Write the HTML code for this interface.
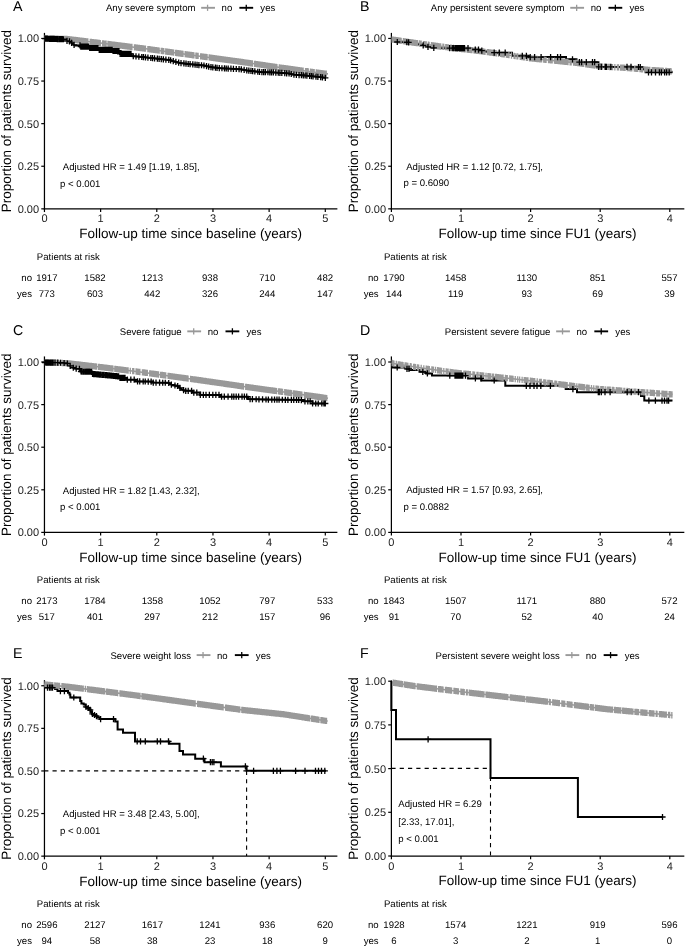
<!DOCTYPE html>
<html><head><meta charset="utf-8"><style>html,body{margin:0;padding:0;background:#fff;}svg{display:block;will-change:transform;} text{text-rendering:geometricPrecision;}</style></head><body>
<svg width="685" height="947" viewBox="0 0 685 947" font-family='"Liberation Sans", sans-serif'>
<rect width="685" height="947" fill="#fff"/>
<text x="12.95" y="10.95" font-size="14.2" text-anchor="start" fill="#000">A</text>
<text x="105.93" y="11.20" font-size="9.6" text-anchor="start" fill="#000">Any severe symptom</text>
<line x1="201.17" y1="7.80" x2="214.97" y2="7.80" stroke="#999999" stroke-width="1.9"/>
<line x1="207.57" y1="4.70" x2="207.57" y2="10.90" stroke="#999999" stroke-width="1.3"/>
<text x="221.57" y="11.20" font-size="9.6" text-anchor="start" fill="#000">no</text>
<line x1="239.37" y1="7.80" x2="253.17" y2="7.80" stroke="#000" stroke-width="1.9"/>
<line x1="246.27" y1="4.70" x2="246.27" y2="10.90" stroke="#000" stroke-width="1.3"/>
<text x="260.37" y="11.20" font-size="9.6" text-anchor="start" fill="#000">yes</text>
<line x1="44.45" y1="33.50" x2="44.45" y2="208.85" stroke="#000" stroke-width="1.25" stroke-linecap="square"/>
<line x1="44.45" y1="208.85" x2="336.75" y2="208.85" stroke="#000" stroke-width="1.25" stroke-linecap="square"/>
<line x1="41.25" y1="208.85" x2="44.45" y2="208.85" stroke="#000" stroke-width="1.2"/>
<text x="39.10" y="212.75" font-size="11" text-anchor="end" fill="#222">0.00</text>
<line x1="41.25" y1="166.25" x2="44.45" y2="166.25" stroke="#000" stroke-width="1.2"/>
<text x="39.10" y="170.15" font-size="11" text-anchor="end" fill="#222">0.25</text>
<line x1="41.25" y1="123.65" x2="44.45" y2="123.65" stroke="#000" stroke-width="1.2"/>
<text x="39.10" y="127.55" font-size="11" text-anchor="end" fill="#222">0.50</text>
<line x1="41.25" y1="81.05" x2="44.45" y2="81.05" stroke="#000" stroke-width="1.2"/>
<text x="39.10" y="84.95" font-size="11" text-anchor="end" fill="#222">0.75</text>
<line x1="41.25" y1="38.45" x2="44.45" y2="38.45" stroke="#000" stroke-width="1.2"/>
<text x="39.10" y="42.35" font-size="11" text-anchor="end" fill="#222">1.00</text>
<line x1="44.45" y1="208.85" x2="44.45" y2="212.05" stroke="#000" stroke-width="1.2"/>
<text x="44.45" y="222.35" font-size="11" text-anchor="middle" fill="#222">0</text>
<line x1="100.62" y1="208.85" x2="100.62" y2="212.05" stroke="#000" stroke-width="1.2"/>
<text x="100.62" y="222.35" font-size="11" text-anchor="middle" fill="#222">1</text>
<line x1="156.79" y1="208.85" x2="156.79" y2="212.05" stroke="#000" stroke-width="1.2"/>
<text x="156.79" y="222.35" font-size="11" text-anchor="middle" fill="#222">2</text>
<line x1="212.96" y1="208.85" x2="212.96" y2="212.05" stroke="#000" stroke-width="1.2"/>
<text x="212.96" y="222.35" font-size="11" text-anchor="middle" fill="#222">3</text>
<line x1="269.13" y1="208.85" x2="269.13" y2="212.05" stroke="#000" stroke-width="1.2"/>
<text x="269.13" y="222.35" font-size="11" text-anchor="middle" fill="#222">4</text>
<line x1="325.30" y1="208.85" x2="325.30" y2="212.05" stroke="#000" stroke-width="1.2"/>
<text x="325.30" y="222.35" font-size="11" text-anchor="middle" fill="#222">5</text>
<text x="190.60" y="238.25" font-size="13.5" text-anchor="middle" fill="#000">Follow-up time since baseline (years)</text>
<text x="0" y="0" font-size="13.5" text-anchor="middle" transform="translate(10.90,121.17) rotate(-90)">Proportion of patients survived</text>
<text x="62.77" y="170.00" font-size="9.6" text-anchor="start" fill="#000">Adjusted HR = 1.49 [1.19, 1.85],</text>
<text x="60.10" y="186.60" font-size="9.6" text-anchor="start" fill="#000">p &lt; 0.001</text>
<text x="36.85" y="259.60" font-size="9.6" text-anchor="start" fill="#000">Patients at risk</text>
<text x="32.00" y="280.80" font-size="9.6" text-anchor="end" fill="#000">no</text>
<text x="32.00" y="296.80" font-size="9.6" text-anchor="end" fill="#000">yes</text>
<text x="46.80" y="280.80" font-size="9.6" text-anchor="middle" fill="#000">1917</text>
<text x="46.80" y="296.80" font-size="9.6" text-anchor="middle" fill="#000">773</text>
<text x="95.00" y="280.80" font-size="9.6" text-anchor="middle" fill="#000">1582</text>
<text x="95.00" y="296.80" font-size="9.6" text-anchor="middle" fill="#000">603</text>
<text x="152.30" y="280.80" font-size="9.6" text-anchor="middle" fill="#000">1213</text>
<text x="152.30" y="296.80" font-size="9.6" text-anchor="middle" fill="#000">442</text>
<text x="210.00" y="280.80" font-size="9.6" text-anchor="middle" fill="#000">938</text>
<text x="210.00" y="296.80" font-size="9.6" text-anchor="middle" fill="#000">326</text>
<text x="267.30" y="280.80" font-size="9.6" text-anchor="middle" fill="#000">710</text>
<text x="267.30" y="296.80" font-size="9.6" text-anchor="middle" fill="#000">244</text>
<text x="325.10" y="280.80" font-size="9.6" text-anchor="middle" fill="#000">482</text>
<text x="325.10" y="296.80" font-size="9.6" text-anchor="middle" fill="#000">147</text>
<polyline points="44.20,38.40 67.40,39.00 102.40,43.30 144.00,48.50 200.00,56.20 240.00,61.70 282.00,67.80 320.00,73.00 326.00,73.70 328.00,73.90" fill="none" stroke="#999999" stroke-width="1.6" stroke-linejoin="miter"/>
<polyline points="44.20,38.60 64.40,39.30 64.40,40.80 68.80,40.80 70.50,42.00 72.50,43.50 74.70,45.40 80.50,45.40 80.50,46.60 89.30,46.60 89.30,48.00 98.00,48.00 98.00,49.80 112.60,49.80 112.60,51.00 120.00,51.00 120.00,53.90 131.60,53.90 131.60,56.10 140.00,56.80 160.00,59.00 169.30,60.00 175.00,61.70 180.00,63.00 190.00,64.20 204.00,65.50 212.00,67.30 221.00,68.20 240.00,69.20 247.00,70.50 260.00,72.00 275.00,72.50 290.00,73.50 292.50,74.50 305.00,75.50 320.00,77.00 325.30,77.80" fill="none" stroke="#000" stroke-width="2.0" stroke-linejoin="miter"/>
<path d="M45.00,35.27V41.57M45.92,35.29V41.59M46.86,35.32V41.62M47.59,35.34V41.64M50.07,35.40V41.70M50.87,35.42V41.72M51.75,35.45V41.75M52.64,35.47V41.77M53.40,35.49V41.79M54.45,35.52V41.82M55.45,35.54V41.84M56.17,35.56V41.86M57.11,35.58V41.88M57.82,35.60V41.90M58.71,35.63V41.93M59.76,35.65V41.95M60.83,35.68V41.98M61.85,35.71V42.01M62.93,35.73V42.03M63.67,35.75V42.05M64.45,35.77V42.07M65.33,35.80V42.10M66.15,35.82V42.12M67.00,35.84V42.14M67.94,35.92V42.22M69.00,36.05V42.35M70.07,36.18V42.48M71.16,36.31V42.61M71.93,36.41V42.71M73.02,36.54V42.84M73.94,36.65V42.95M74.73,36.75V43.05M75.66,36.86V43.16M76.38,36.95V43.25M77.48,37.09V43.39M78.50,37.21V43.51M79.26,37.31V43.61M80.27,37.43V43.73M80.98,37.52V43.82M81.70,37.61V43.91M82.53,37.71V44.01M83.63,37.84V44.14M84.73,37.98V44.28M85.46,38.07V44.37M86.17,38.16V44.46M87.03,38.26V44.56M87.80,38.36V44.66M90.30,38.66V44.96M91.39,38.80V45.10M92.24,38.90V45.20M93.15,39.01V45.31M94.08,39.13V45.43M95.03,39.24V45.54M95.93,39.36V45.66M96.92,39.48V45.78M97.74,39.58V45.88M98.65,39.69V45.99M99.36,39.78V46.08M100.29,39.89V46.19M102.62,40.18V46.48M103.34,40.27V46.57M104.23,40.38V46.68M105.07,40.48V46.78M106.07,40.61V46.91M108.01,40.85V47.15M109.09,40.99V47.29M109.98,41.10V47.40M110.80,41.20V47.50M111.63,41.30V47.60M112.57,41.42V47.72M113.42,41.53V47.83M114.13,41.62V47.92M115.12,41.74V48.04M115.91,41.84V48.14M116.71,41.94V48.24M117.58,42.05V48.35M118.32,42.14V48.44M119.16,42.24V48.54M120.03,42.35V48.65M120.80,42.45V48.75M121.76,42.57V48.87M122.64,42.68V48.98M123.39,42.77V49.07M124.16,42.87V49.17M125.20,43.00V49.30M126.01,43.10V49.40M126.97,43.22V49.52M127.81,43.33V49.63M128.62,43.43V49.73M129.43,43.53V49.83M130.30,43.64V49.94M131.16,43.75V50.05M131.92,43.84V50.14M134.48,44.16V50.46M135.58,44.30V50.60M136.66,44.43V50.73M137.45,44.53V50.83M138.48,44.66V50.96M139.39,44.77V51.07M140.23,44.88V51.18M140.95,44.97V51.27M141.77,45.07V51.37M142.49,45.16V51.46M143.46,45.28V51.58M144.52,45.42V51.72M145.45,45.55V51.85M147.88,45.88V52.18M148.70,46.00V52.30M149.61,46.12V52.42M150.68,46.27V52.57M151.52,46.38V52.68M152.56,46.53V52.83M153.58,46.67V52.97M154.35,46.77V53.07M155.38,46.91V53.21M156.40,47.05V53.35M157.42,47.20V53.50M158.12,47.29V53.59M159.17,47.44V53.74M161.26,47.72V54.02M162.17,47.85V54.15M163.06,47.97V54.27M163.76,48.07V54.37M165.75,48.34V54.64M166.48,48.44V54.74M167.52,48.58V54.88M168.42,48.71V55.01M169.24,48.82V55.12M170.20,48.95V55.25M171.05,49.07V55.37M171.88,49.18V55.48M172.80,49.31V55.61M173.65,49.43V55.73M175.68,49.71V56.01M176.62,49.84V56.14M177.47,49.95V56.25M178.42,50.08V56.38M179.27,50.20V56.50M180.25,50.33V56.63M181.23,50.47V56.77M182.03,50.58V56.88M183.00,50.71V57.01M185.20,51.02V57.32M186.25,51.16V57.46M187.10,51.28V57.58M188.12,51.42V57.72M189.01,51.54V57.84M190.03,51.68V57.98M191.09,51.82V58.12M192.05,51.96V58.26M192.98,52.08V58.38M193.91,52.21V58.51M195.91,52.49V58.79M196.63,52.59V58.89M197.37,52.69V58.99M198.14,52.79V59.09M200.63,53.14V59.44M201.67,53.28V59.58M202.70,53.42V59.72M203.64,53.55V59.85M204.35,53.65V59.95M205.25,53.77V60.07M206.00,53.87V60.17M207.07,54.02V60.32M209.20,54.31V60.61M210.23,54.46V60.76M211.00,54.56V60.86M211.95,54.69V60.99M212.81,54.81V61.11M213.66,54.93V61.23M214.53,55.05V61.35M215.43,55.17V61.47M216.30,55.29V61.59M217.06,55.40V61.70M218.06,55.53V61.83M218.97,55.66V61.96M219.93,55.79V62.09M220.69,55.89V62.19M221.69,56.03V62.33M222.59,56.16V62.46M223.58,56.29V62.59M224.39,56.40V62.70M225.32,56.53V62.83M226.11,56.64V62.94M227.20,56.79V63.09M228.18,56.92V63.22M229.22,57.07V63.37M230.03,57.18V63.48M230.74,57.28V63.58M231.59,57.39V63.69M232.43,57.51V63.81M233.44,57.65V63.95M234.54,57.80V64.10M235.48,57.93V64.23M236.51,58.07V64.37M237.44,58.20V64.50M238.42,58.33V64.63M239.28,58.45V64.75M240.37,58.60V64.90M241.16,58.72V65.02M242.15,58.86V65.16M243.23,59.02V65.32M244.03,59.13V65.43M244.83,59.25V65.55M245.81,59.39V65.69M246.87,59.55V65.85M247.92,59.70V66.00M248.79,59.83V66.13M249.52,59.93V66.23M250.56,60.08V66.38M251.40,60.21V66.51M252.37,60.35V66.65M254.50,60.66V66.96M255.40,60.79V67.09M256.33,60.92V67.22M257.19,61.05V67.35M257.94,61.15V67.45M258.90,61.30V67.60M259.96,61.45V67.75M260.70,61.56V67.86M261.54,61.68V67.98M262.55,61.82V68.12M263.52,61.97V68.27M264.54,62.11V68.41M265.54,62.26V68.56M266.51,62.40V68.70M267.26,62.51V68.81M268.10,62.63V68.93M269.07,62.77V69.07M269.84,62.88V69.18M270.79,63.02V69.32M271.85,63.18V69.48M272.60,63.28V69.58M273.36,63.39V69.69M274.34,63.54V69.84M275.27,63.67V69.97M276.15,63.80V70.10M276.92,63.91V70.21M279.32,64.26V70.56M280.24,64.39V70.69M281.08,64.52V70.82M281.94,64.64V70.94M282.65,64.74V71.04M283.45,64.85V71.15M284.29,64.96V71.26M285.15,65.08V71.38M286.16,65.22V71.52M287.20,65.36V71.66M288.01,65.47V71.77M288.75,65.57V71.87M289.75,65.71V72.01M290.52,65.82V72.12M291.52,65.95V72.25M292.52,66.09V72.39M293.28,66.19V72.49M294.05,66.30V72.60M294.98,66.43V72.73M295.78,66.54V72.84M296.49,66.63V72.93M297.55,66.78V73.08M298.40,66.89V73.19M299.34,67.02V73.32M300.43,67.17V73.47M301.25,67.28V73.58M302.14,67.41V73.71M303.13,67.54V73.84M305.57,67.88V74.18M306.47,68.00V74.30M307.35,68.12V74.42M308.26,68.24V74.54M310.51,68.55V74.85M311.39,68.67V74.97M312.48,68.82V75.12M313.23,68.92V75.22M314.18,69.05V75.35M316.33,69.35V75.65M317.06,69.45V75.75M318.13,69.59V75.89M319.18,69.74V76.04M319.94,69.84V76.14M320.88,69.95V76.25M321.86,70.07V76.37M322.70,70.16V76.46M323.77,70.29V76.59M324.65,70.39V76.69M325.54,70.50V76.80M326.26,70.58V76.88" stroke="#999999" stroke-width="1.3" fill="none"/>
<path d="M322.20,77.80H328.40M325.30,74.70V80.90M41.90,38.63H48.10M45.00,35.53V41.73M42.82,38.66H49.02M45.92,35.56V41.76M43.96,38.70H50.16M47.06,35.60V41.80M45.25,38.74H51.45M48.35,35.64V41.84M46.43,38.78H52.63M49.53,35.68V41.88M47.52,38.82H53.72M50.62,35.72V41.92M48.78,38.87H54.98M51.88,35.77V41.97M49.79,38.90H55.99M52.89,35.80V42.00M50.92,38.94H57.12M54.02,35.84V42.04M52.24,38.99H58.44M55.34,35.89V42.09M53.33,39.02H59.53M56.43,35.92V42.12M54.26,39.06H60.46M57.36,35.96V42.16M55.68,39.11H61.88M58.78,36.01V42.21M56.98,39.15H63.18M60.08,36.05V42.25M58.04,39.19H64.24M61.14,36.09V42.29M59.10,39.22H65.30M62.20,36.12V42.32M60.27,39.26H66.47M63.37,36.16V42.36M63.90,40.80H70.10M67.00,37.70V43.90M66.40,41.30H72.60M69.50,38.20V44.40M68.51,42.83H74.71M71.61,39.73V45.93M70.98,44.87H77.18M74.08,41.77V47.97M76.90,45.40H83.10M80.00,42.30V48.50M77.73,46.60H83.93M80.83,43.50V49.70M78.75,46.60H84.95M81.85,43.50V49.70M79.61,46.60H85.81M82.71,43.50V49.70M80.48,46.60H86.68M83.58,43.50V49.70M81.32,46.60H87.52M84.42,43.50V49.70M82.31,46.60H88.51M85.41,43.50V49.70M83.15,46.60H89.35M86.25,43.50V49.70M83.90,46.60H90.10M87.00,43.50V49.70M84.70,46.60H90.90M87.80,43.50V49.70M85.55,46.60H91.75M88.65,43.50V49.70M86.59,48.00H92.79M89.69,44.90V51.10M87.36,48.00H93.56M90.46,44.90V51.10M88.11,48.00H94.31M91.21,44.90V51.10M89.13,48.00H95.33M92.23,44.90V51.10M90.12,48.00H96.32M93.22,44.90V51.10M91.30,48.00H97.50M94.40,44.90V51.10M92.07,48.00H98.27M95.17,44.90V51.10M93.05,48.00H99.25M96.15,44.90V51.10M94.04,48.00H100.24M97.14,44.90V51.10M94.79,48.00H100.99M97.89,44.90V51.10M96.13,49.80H102.33M99.23,46.70V52.90M97.01,49.80H103.21M100.11,46.70V52.90M97.80,49.80H104.00M100.90,46.70V52.90M98.84,49.80H105.04M101.94,46.70V52.90M99.67,49.80H105.87M102.77,46.70V52.90M100.80,49.80H107.00M103.90,46.70V52.90M101.76,49.80H107.96M104.86,46.70V52.90M102.57,49.80H108.77M105.67,46.70V52.90M103.34,49.80H109.54M106.44,46.70V52.90M104.53,49.80H110.73M107.63,46.70V52.90M105.44,49.80H111.64M108.54,46.70V52.90M106.67,49.80H112.87M109.77,46.70V52.90M107.70,49.80H113.90M110.80,46.70V52.90M109.02,49.80H115.22M112.12,46.70V52.90M109.94,51.00H116.14M113.04,47.90V54.10M110.84,51.00H117.04M113.94,47.90V54.10M111.74,51.00H117.94M114.84,47.90V54.10M112.99,51.00H119.19M116.09,47.90V54.10M114.12,51.00H120.32M117.22,47.90V54.10M115.07,51.00H121.27M118.17,47.90V54.10M115.87,51.00H122.07M118.97,47.90V54.10M117.03,53.90H123.23M120.13,50.80V57.00M118.38,53.90H124.58M121.48,50.80V57.00M119.48,53.90H125.68M122.58,50.80V57.00M120.22,53.90H126.42M123.32,50.80V57.00M120.98,53.90H127.18M124.08,50.80V57.00M121.77,53.90H127.97M124.87,50.80V57.00M122.61,53.90H128.81M125.71,50.80V57.00M123.37,53.90H129.57M126.47,50.80V57.00M124.14,53.90H130.34M127.24,50.80V57.00M125.28,53.90H131.48M128.38,50.80V57.00M126.59,53.90H132.79M129.69,50.80V57.00M127.45,53.90H133.65M130.55,50.80V57.00M127.90,53.90H134.10M131.00,50.80V57.00M130.17,56.24H136.37M133.27,53.14V59.34M132.89,56.47H139.09M135.99,53.37V59.57M135.76,56.71H141.96M138.86,53.61V59.81M138.67,56.99H144.87M141.77,53.89V60.09M140.33,57.18H146.53M143.43,54.08V60.28M142.36,57.40H148.56M145.46,54.30V60.50M144.81,57.67H151.01M147.91,54.57V60.77M147.72,57.99H153.92M150.82,54.89V61.09M149.45,58.18H155.65M152.55,55.08V61.28M151.47,58.40H157.67M154.57,55.30V61.50M154.25,58.71H160.45M157.35,55.61V61.81M156.02,58.90H162.22M159.12,55.80V62.00M158.17,59.14H164.37M161.27,56.04V62.24M160.24,59.36H166.44M163.34,56.26V62.46M162.79,59.63H168.99M165.89,56.53V62.73M165.68,59.94H171.88M168.78,56.84V63.04M167.53,60.40H173.73M170.63,57.30V63.50M170.16,61.18H176.36M173.26,58.08V64.28M172.78,61.93H178.98M175.88,58.83V65.03M175.55,62.65H181.75M178.65,59.55V65.75M177.92,63.12H184.12M181.02,60.02V66.22M180.80,63.47H187.00M183.90,60.37V66.57M182.91,63.72H189.11M186.01,60.62V66.82M185.10,63.98H191.30M188.20,60.88V67.08M187.02,64.21H193.22M190.12,61.11V67.31M189.71,64.46H195.91M192.81,61.36V67.56M191.98,64.67H198.18M195.08,61.57V67.77M193.96,64.86H200.16M197.06,61.76V67.96M195.81,65.03H202.01M198.91,61.93V68.13M198.41,65.27H204.61M201.51,62.17V68.37M200.86,65.50H207.06M203.96,62.40V68.60M203.45,66.07H209.65M206.55,62.97V69.17M205.59,66.56H211.79M208.69,63.46V69.66M207.88,67.07H214.08M210.98,63.97V70.17M209.70,67.38H215.90M212.80,64.28V70.48M212.29,67.64H218.49M215.39,64.54V70.74M213.93,67.80H220.13M217.03,64.70V70.90M216.18,68.03H222.38M219.28,64.93V71.13M218.84,68.25H225.04M221.94,65.15V71.35M221.39,68.38H227.59M224.49,65.28V71.48M223.13,68.48H229.33M226.23,65.38V71.58M225.07,68.58H231.27M228.17,65.48V71.68M227.84,68.72H234.04M230.94,65.62V71.82M230.34,68.85H236.54M233.44,65.75V71.95M233.16,69.00H239.36M236.26,65.90V72.10M235.97,69.15H242.17M239.07,66.05V72.25M238.21,69.44H244.41M241.31,66.34V72.54M241.05,69.97H247.25M244.15,66.87V73.07M243.67,70.46H249.87M246.77,67.36V73.56M245.74,70.71H251.94M248.84,67.61V73.81M247.87,70.96H254.07M250.97,67.86V74.06M249.57,71.15H255.77M252.67,68.05V74.25M251.74,71.40H257.94M254.84,68.30V74.50M254.66,71.74H260.86M257.76,68.64V74.84M256.42,71.94H262.62M259.52,68.84V75.04M258.81,72.06H265.01M261.91,68.96V75.16M260.58,72.12H266.78M263.68,69.02V75.22M262.30,72.18H268.50M265.40,69.08V75.28M264.80,72.26H271.00M267.90,69.16V75.36M266.75,72.33H272.95M269.85,69.23V75.43M268.42,72.38H274.62M271.52,69.28V75.48M270.24,72.44H276.44M273.34,69.34V75.54M272.74,72.56H278.94M275.84,69.46V75.66M275.16,72.72H281.36M278.26,69.62V75.82M276.79,72.83H282.99M279.89,69.73V75.93M278.72,72.95H284.92M281.82,69.85V76.05M281.66,73.15H287.86M284.76,70.05V76.25M283.57,73.28H289.77M286.67,70.18V76.38M285.96,73.44H292.16M289.06,70.34V76.54M288.15,74.00H294.35M291.25,70.90V77.10M290.84,74.61H297.04M293.94,71.51V77.71M293.28,74.81H299.48M296.38,71.71V77.91M295.98,75.03H302.18M299.08,71.93V78.13M298.33,75.21H304.53M301.43,72.11V78.31M300.20,75.36H306.40M303.30,72.26V78.46M302.05,75.52H308.25M305.15,72.42V78.62M303.77,75.69H309.97M306.87,72.59V78.79M306.52,75.96H312.72M309.62,72.86V79.06M308.29,76.14H314.49M311.39,73.04V79.24M309.93,76.30H316.13M313.03,73.20V79.40M312.87,76.60H319.07M315.97,73.50V79.70M314.76,76.79H320.96M317.86,73.69V79.89M317.60,77.11H323.80M320.70,74.01V80.21M319.33,77.37H325.53M322.43,74.27V80.47" stroke="#000" stroke-width="1.3" fill="none"/>
<text x="360.05" y="10.95" font-size="14.2" text-anchor="start" fill="#000">B</text>
<text x="430.74" y="11.20" font-size="9.6" text-anchor="start" fill="#000">Any persistent severe symptom</text>
<line x1="570.26" y1="7.80" x2="584.06" y2="7.80" stroke="#999999" stroke-width="1.9"/>
<line x1="576.66" y1="4.70" x2="576.66" y2="10.90" stroke="#999999" stroke-width="1.3"/>
<text x="590.66" y="11.20" font-size="9.6" text-anchor="start" fill="#000">no</text>
<line x1="608.46" y1="7.80" x2="622.26" y2="7.80" stroke="#000" stroke-width="1.9"/>
<line x1="615.36" y1="4.70" x2="615.36" y2="10.90" stroke="#000" stroke-width="1.3"/>
<text x="629.46" y="11.20" font-size="9.6" text-anchor="start" fill="#000">yes</text>
<line x1="391.40" y1="33.50" x2="391.40" y2="208.85" stroke="#000" stroke-width="1.25" stroke-linecap="square"/>
<line x1="391.40" y1="208.85" x2="683.70" y2="208.85" stroke="#000" stroke-width="1.25" stroke-linecap="square"/>
<line x1="388.20" y1="208.85" x2="391.40" y2="208.85" stroke="#000" stroke-width="1.2"/>
<text x="386.05" y="212.75" font-size="11" text-anchor="end" fill="#222">0.00</text>
<line x1="388.20" y1="166.25" x2="391.40" y2="166.25" stroke="#000" stroke-width="1.2"/>
<text x="386.05" y="170.15" font-size="11" text-anchor="end" fill="#222">0.25</text>
<line x1="388.20" y1="123.65" x2="391.40" y2="123.65" stroke="#000" stroke-width="1.2"/>
<text x="386.05" y="127.55" font-size="11" text-anchor="end" fill="#222">0.50</text>
<line x1="388.20" y1="81.05" x2="391.40" y2="81.05" stroke="#000" stroke-width="1.2"/>
<text x="386.05" y="84.95" font-size="11" text-anchor="end" fill="#222">0.75</text>
<line x1="388.20" y1="38.45" x2="391.40" y2="38.45" stroke="#000" stroke-width="1.2"/>
<text x="386.05" y="42.35" font-size="11" text-anchor="end" fill="#222">1.00</text>
<line x1="391.40" y1="208.85" x2="391.40" y2="212.05" stroke="#000" stroke-width="1.2"/>
<text x="391.40" y="222.35" font-size="11" text-anchor="middle" fill="#222">0</text>
<line x1="461.00" y1="208.85" x2="461.00" y2="212.05" stroke="#000" stroke-width="1.2"/>
<text x="461.00" y="222.35" font-size="11" text-anchor="middle" fill="#222">1</text>
<line x1="530.60" y1="208.85" x2="530.60" y2="212.05" stroke="#000" stroke-width="1.2"/>
<text x="530.60" y="222.35" font-size="11" text-anchor="middle" fill="#222">2</text>
<line x1="600.20" y1="208.85" x2="600.20" y2="212.05" stroke="#000" stroke-width="1.2"/>
<text x="600.20" y="222.35" font-size="11" text-anchor="middle" fill="#222">3</text>
<line x1="669.80" y1="208.85" x2="669.80" y2="212.05" stroke="#000" stroke-width="1.2"/>
<text x="669.80" y="222.35" font-size="11" text-anchor="middle" fill="#222">4</text>
<text x="537.55" y="238.25" font-size="13.5" text-anchor="middle" fill="#000">Follow-up time since FU1 (years)</text>
<text x="0" y="0" font-size="13.5" text-anchor="middle" transform="translate(358.00,121.17) rotate(-90)">Proportion of patients survived</text>
<text x="406.17" y="169.60" font-size="9.6" text-anchor="start" fill="#000">Adjusted HR = 1.12 [0.72, 1.75],</text>
<text x="403.50" y="186.30" font-size="9.6" text-anchor="start" fill="#000">p = 0.6090</text>
<text x="383.95" y="259.60" font-size="9.6" text-anchor="start" fill="#000">Patients at risk</text>
<text x="378.60" y="280.80" font-size="9.6" text-anchor="end" fill="#000">no</text>
<text x="378.60" y="296.80" font-size="9.6" text-anchor="end" fill="#000">yes</text>
<text x="394.00" y="280.80" font-size="9.6" text-anchor="middle" fill="#000">1790</text>
<text x="394.00" y="296.80" font-size="9.6" text-anchor="middle" fill="#000">144</text>
<text x="455.70" y="280.80" font-size="9.6" text-anchor="middle" fill="#000">1458</text>
<text x="455.70" y="296.80" font-size="9.6" text-anchor="middle" fill="#000">119</text>
<text x="526.80" y="280.80" font-size="9.6" text-anchor="middle" fill="#000">1130</text>
<text x="526.80" y="296.80" font-size="9.6" text-anchor="middle" fill="#000">93</text>
<text x="597.70" y="280.80" font-size="9.6" text-anchor="middle" fill="#000">851</text>
<text x="597.70" y="296.80" font-size="9.6" text-anchor="middle" fill="#000">69</text>
<text x="669.50" y="280.80" font-size="9.6" text-anchor="middle" fill="#000">557</text>
<text x="669.50" y="296.80" font-size="9.6" text-anchor="middle" fill="#000">39</text>
<polyline points="391.40,38.40 392.00,39.50 420.00,43.60 440.00,46.40 460.00,48.80 480.00,51.10 505.00,54.50 530.00,58.30 577.00,62.90 600.70,66.50 625.00,67.80 646.70,69.70 671.00,71.30 672.50,71.40" fill="none" stroke="#999999" stroke-width="1.6" stroke-linejoin="miter"/>
<polyline points="391.40,38.40 393.00,39.50 397.30,42.00 406.00,42.20 410.00,42.50 416.00,44.00 423.20,45.30 428.00,46.80 433.80,47.90 447.00,48.20 471.50,48.20 471.50,49.40 479.00,49.60 481.80,50.60 491.00,52.60 512.00,52.70 512.00,55.80 528.00,55.80 528.00,57.10 566.00,57.10 566.00,59.30 576.50,59.30 576.50,62.20 598.40,62.20 598.40,66.80 642.30,67.00 642.30,69.30 645.60,69.30 645.60,72.30 672.50,72.30" fill="none" stroke="#000" stroke-width="2.0" stroke-linejoin="miter"/>
<path d="M392.20,36.38V42.68M393.23,36.53V42.83M394.19,36.67V42.97M395.24,36.82V43.12M396.18,36.96V43.26M396.92,37.07V43.37M397.86,37.21V43.51M398.64,37.32V43.62M399.53,37.45V43.75M400.26,37.56V43.86M401.15,37.69V43.99M403.44,38.03V44.33M404.31,38.15V44.45M405.25,38.29V44.59M406.09,38.41V44.71M406.93,38.54V44.84M407.66,38.64V44.94M408.43,38.76V45.06M409.42,38.90V45.20M410.51,39.06V45.36M411.58,39.22V45.52M412.45,39.34V45.64M413.51,39.50V45.80M414.41,39.63V45.93M415.27,39.76V46.06M416.34,39.91V46.21M417.41,40.07V46.37M419.38,40.36V46.66M420.20,40.48V46.78M421.15,40.61V46.91M423.57,40.95V47.25M424.45,41.07V47.37M425.44,41.21V47.51M426.26,41.33V47.63M428.37,41.62V47.92M429.10,41.72V48.02M431.53,42.06V48.36M432.62,42.22V48.52M433.67,42.36V48.66M434.44,42.47V48.77M435.32,42.60V48.90M436.24,42.72V49.02M437.28,42.87V49.17M438.17,42.99V49.29M439.19,43.14V49.44M439.99,43.25V49.55M440.69,43.33V49.63M442.96,43.61V49.91M443.73,43.70V50.00M445.77,43.94V50.24M446.66,44.05V50.35M447.67,44.17V50.47M448.38,44.26V50.56M450.29,44.49V50.79M451.13,44.59V50.89M453.41,44.86V51.16M455.53,45.11V51.41M456.55,45.24V51.54M457.35,45.33V51.63M459.56,45.60V51.90M460.53,45.71V52.01M461.55,45.83V52.13M462.30,45.91V52.21M463.32,46.03V52.33M464.35,46.15V52.45M465.16,46.24V52.54M467.08,46.46V52.76M468.13,46.59V52.89M469.02,46.69V52.99M470.09,46.81V53.11M471.03,46.92V53.22M471.94,47.02V53.32M473.97,47.26V53.56M475.07,47.38V53.68M475.93,47.48V53.78M476.81,47.58V53.88M477.69,47.68V53.98M478.45,47.77V54.07M479.36,47.88V54.18M480.40,48.00V54.30M481.48,48.15V54.45M482.19,48.25V54.55M483.11,48.37V54.67M483.92,48.48V54.78M484.98,48.63V54.93M487.35,48.95V55.25M488.26,49.07V55.37M489.34,49.22V55.52M490.12,49.33V55.63M490.89,49.43V55.73M491.92,49.57V55.87M492.73,49.68V55.98M493.81,49.83V56.13M494.67,49.94V56.24M495.42,50.05V56.35M496.51,50.20V56.50M498.57,50.48V56.78M500.53,50.74V57.04M501.53,50.88V57.18M502.48,51.01V57.31M503.18,51.10V57.40M504.26,51.25V57.55M506.35,51.56V57.86M507.16,51.68V57.98M507.88,51.79V58.09M508.96,51.95V58.25M511.50,52.34V58.64M514.09,52.73V59.03M515.05,52.88V59.18M516.99,53.17V59.47M517.76,53.29V59.59M520.23,53.67V59.97M520.95,53.77V60.07M521.87,53.91V60.21M522.61,54.03V60.33M523.70,54.19V60.49M524.46,54.31V60.61M526.45,54.61V60.91M527.51,54.77V61.07M529.55,55.08V61.38M530.65,55.21V61.51M531.44,55.29V61.59M532.52,55.40V61.70M533.51,55.49V61.79M534.21,55.56V61.86M535.21,55.66V61.96M536.14,55.75V62.05M537.06,55.84V62.14M537.97,55.93V62.23M538.75,56.01V62.31M539.82,56.11V62.41M540.59,56.19V62.49M541.63,56.29V62.59M543.72,56.49V62.79M544.44,56.56V62.86M545.30,56.65V62.95M546.05,56.72V63.02M548.56,56.97V63.27M549.65,57.07V63.37M550.56,57.16V63.46M551.30,57.23V63.53M552.18,57.32V63.62M554.50,57.55V63.85M555.40,57.64V63.94M556.23,57.72V64.02M557.17,57.81V64.11M558.24,57.91V64.21M559.28,58.02V64.32M560.37,58.12V64.42M561.12,58.20V64.50M562.11,58.29V64.59M563.07,58.39V64.69M564.15,58.49V64.79M565.04,58.58V64.88M566.09,58.68V64.98M567.01,58.77V65.07M567.95,58.86V65.16M570.15,59.08V65.38M571.16,59.18V65.48M573.66,59.42V65.72M574.75,59.53V65.83M575.54,59.61V65.91M576.59,59.71V66.01M577.64,59.85V66.15M578.48,59.98V66.28M579.39,60.11V66.41M580.23,60.24V66.54M581.28,60.40V66.70M582.04,60.52V66.82M582.89,60.64V66.94M583.65,60.76V67.06M585.77,61.08V67.38M586.48,61.19V67.49M587.55,61.35V67.65M588.55,61.50V67.80M589.58,61.66V67.96M590.46,61.79V68.09M591.21,61.91V68.21M592.06,62.04V68.34M593.11,62.20V68.50M593.89,62.32V68.62M594.83,62.46V68.76M596.75,62.75V69.05M597.45,62.86V69.16M598.23,62.97V69.27M599.08,63.10V69.40M599.95,63.24V69.54M600.92,63.36V69.66M601.66,63.40V69.70M602.63,63.45V69.75M604.84,63.57V69.87M605.94,63.63V69.93M607.85,63.73V70.03M608.72,63.78V70.08M609.75,63.83V70.13M610.61,63.88V70.18M611.67,63.94V70.24M612.52,63.98V70.28M614.87,64.11V70.41M617.43,64.24V70.54M618.36,64.29V70.59M620.42,64.40V70.70M621.46,64.46V70.76M622.28,64.50V70.80M623.24,64.56V70.86M624.02,64.60V70.90M625.08,64.66V70.96M627.35,64.86V71.16M628.20,64.93V71.23M629.26,65.02V71.32M630.25,65.11V71.41M630.98,65.17V71.47M631.80,65.25V71.55M634.31,65.47V71.77M635.34,65.56V71.86M636.09,65.62V71.92M636.95,65.70V72.00M637.72,65.76V72.06M639.97,65.96V72.26M641.01,66.05V72.35M641.74,66.12V72.42M642.59,66.19V72.49M644.67,66.37V72.67M645.65,66.46V72.76M646.39,66.52V72.82M647.27,66.59V72.89M648.06,66.64V72.94M648.85,66.69V72.99M649.79,66.75V73.05M652.22,66.91V73.21M653.14,66.97V73.27M654.09,67.04V73.34M654.81,67.08V73.38M655.85,67.15V73.45M656.79,67.21V73.51M657.84,67.28V73.58M658.63,67.34V73.64M659.73,67.41V73.71M660.83,67.48V73.78M661.60,67.53V73.83M662.43,67.59V73.89M663.37,67.65V73.95M665.64,67.80V74.10M666.53,67.86V74.16M667.57,67.92V74.22M668.47,67.98V74.28M669.50,68.05V74.35M670.24,68.10V74.40M671.16,68.16V74.46" stroke="#999999" stroke-width="1.3" fill="none"/>
<path d="M394.20,42.00H400.40M397.30,38.90V45.10M403.70,42.26H409.90M406.80,39.16V45.36M405.50,42.40H411.70M408.60,39.30V45.50M420.10,45.30H426.30M423.20,42.20V48.40M424.90,46.80H431.10M428.00,43.70V49.90M430.70,47.90H436.90M433.80,44.80V51.00M446.50,48.20H452.70M449.60,45.10V51.30M449.20,48.20H455.40M452.30,45.10V51.30M450.60,48.20H456.80M453.70,45.10V51.30M452.10,48.20H458.30M455.20,45.10V51.30M453.30,48.20H459.50M456.40,45.10V51.30M454.20,48.20H460.40M457.30,45.10V51.30M455.00,48.20H461.20M458.10,45.10V51.30M456.20,48.20H462.40M459.30,45.10V51.30M457.10,48.20H463.30M460.20,45.10V51.30M458.00,48.20H464.20M461.10,45.10V51.30M458.90,48.20H465.10M462.00,45.10V51.30M459.80,48.20H466.00M462.90,45.10V51.30M460.70,48.20H466.90M463.80,45.10V51.30M461.40,48.20H467.60M464.50,45.10V51.30M464.90,48.20H471.10M468.00,45.10V51.30M472.20,49.50H478.40M475.30,46.40V52.60M475.40,49.59H481.60M478.50,46.49V52.69M478.70,50.60H484.90M481.80,47.50V53.70M491.10,52.62H497.30M494.20,49.52V55.72M496.20,52.64H502.40M499.30,49.54V55.74M502.10,52.67H508.30M505.20,49.57V55.77M519.20,55.80H525.40M522.30,52.70V58.90M523.30,55.80H529.50M526.40,52.70V58.90M527.10,57.10H533.30M530.20,54.00V60.20M531.50,57.10H537.70M534.60,54.00V60.20M538.00,57.10H544.20M541.10,54.00V60.20M547.50,57.10H553.70M550.60,54.00V60.20M554.50,57.10H560.70M557.60,54.00V60.20M557.40,57.10H563.60M560.50,54.00V60.20M569.40,59.30H575.60M572.50,56.20V62.40M576.30,62.20H582.50M579.40,59.10V65.30M578.50,62.20H584.70M581.60,59.10V65.30M583.20,62.20H589.40M586.30,59.10V65.30M589.40,62.20H595.60M592.50,59.10V65.30M591.60,62.20H597.80M594.70,59.10V65.30M595.60,66.80H601.80M598.70,63.70V69.90M598.20,66.81H604.40M601.30,63.71V69.91M602.20,66.83H608.40M605.30,63.73V69.93M603.30,66.84H609.50M606.40,63.74V69.94M607.70,66.86H613.90M610.80,63.76V69.96M623.90,66.93H630.10M627.00,63.83V70.03M627.90,66.95H634.10M631.00,63.85V70.05M635.40,66.98H641.60M638.50,63.88V70.08M637.20,66.99H643.40M640.30,63.89V70.09M645.40,72.30H651.60M648.50,69.20V75.40M648.40,72.30H654.60M651.50,69.20V75.40M652.40,72.30H658.60M655.50,69.20V75.40M656.30,72.30H662.50M659.40,69.20V75.40M658.30,72.30H664.50M661.40,69.20V75.40M661.50,72.30H667.70M664.60,69.20V75.40M663.50,72.30H669.70M666.60,69.20V75.40M666.10,72.30H672.30M669.20,69.20V75.40" stroke="#000" stroke-width="1.3" fill="none"/>
<text x="12.95" y="334.50" font-size="14.2" text-anchor="start" fill="#000">C</text>
<text x="119.80" y="334.75" font-size="9.6" text-anchor="start" fill="#000">Severe fatigue</text>
<line x1="187.30" y1="331.35" x2="201.10" y2="331.35" stroke="#999999" stroke-width="1.9"/>
<line x1="193.70" y1="328.25" x2="193.70" y2="334.45" stroke="#999999" stroke-width="1.3"/>
<text x="207.70" y="334.75" font-size="9.6" text-anchor="start" fill="#000">no</text>
<line x1="225.50" y1="331.35" x2="239.30" y2="331.35" stroke="#000" stroke-width="1.9"/>
<line x1="232.40" y1="328.25" x2="232.40" y2="334.45" stroke="#000" stroke-width="1.3"/>
<text x="246.50" y="334.75" font-size="9.6" text-anchor="start" fill="#000">yes</text>
<line x1="44.45" y1="357.05" x2="44.45" y2="532.40" stroke="#000" stroke-width="1.25" stroke-linecap="square"/>
<line x1="44.45" y1="532.40" x2="336.75" y2="532.40" stroke="#000" stroke-width="1.25" stroke-linecap="square"/>
<line x1="41.25" y1="532.40" x2="44.45" y2="532.40" stroke="#000" stroke-width="1.2"/>
<text x="39.10" y="536.30" font-size="11" text-anchor="end" fill="#222">0.00</text>
<line x1="41.25" y1="489.80" x2="44.45" y2="489.80" stroke="#000" stroke-width="1.2"/>
<text x="39.10" y="493.70" font-size="11" text-anchor="end" fill="#222">0.25</text>
<line x1="41.25" y1="447.20" x2="44.45" y2="447.20" stroke="#000" stroke-width="1.2"/>
<text x="39.10" y="451.10" font-size="11" text-anchor="end" fill="#222">0.50</text>
<line x1="41.25" y1="404.60" x2="44.45" y2="404.60" stroke="#000" stroke-width="1.2"/>
<text x="39.10" y="408.50" font-size="11" text-anchor="end" fill="#222">0.75</text>
<line x1="41.25" y1="362.00" x2="44.45" y2="362.00" stroke="#000" stroke-width="1.2"/>
<text x="39.10" y="365.90" font-size="11" text-anchor="end" fill="#222">1.00</text>
<line x1="44.45" y1="532.40" x2="44.45" y2="535.60" stroke="#000" stroke-width="1.2"/>
<text x="44.45" y="545.90" font-size="11" text-anchor="middle" fill="#222">0</text>
<line x1="100.62" y1="532.40" x2="100.62" y2="535.60" stroke="#000" stroke-width="1.2"/>
<text x="100.62" y="545.90" font-size="11" text-anchor="middle" fill="#222">1</text>
<line x1="156.79" y1="532.40" x2="156.79" y2="535.60" stroke="#000" stroke-width="1.2"/>
<text x="156.79" y="545.90" font-size="11" text-anchor="middle" fill="#222">2</text>
<line x1="212.96" y1="532.40" x2="212.96" y2="535.60" stroke="#000" stroke-width="1.2"/>
<text x="212.96" y="545.90" font-size="11" text-anchor="middle" fill="#222">3</text>
<line x1="269.13" y1="532.40" x2="269.13" y2="535.60" stroke="#000" stroke-width="1.2"/>
<text x="269.13" y="545.90" font-size="11" text-anchor="middle" fill="#222">4</text>
<line x1="325.30" y1="532.40" x2="325.30" y2="535.60" stroke="#000" stroke-width="1.2"/>
<text x="325.30" y="545.90" font-size="11" text-anchor="middle" fill="#222">5</text>
<text x="190.60" y="561.80" font-size="13.5" text-anchor="middle" fill="#000">Follow-up time since baseline (years)</text>
<text x="0" y="0" font-size="13.5" text-anchor="middle" transform="translate(10.90,444.73) rotate(-90)">Proportion of patients survived</text>
<text x="62.77" y="493.55" font-size="9.6" text-anchor="start" fill="#000">Adjusted HR = 1.82 [1.43, 2.32],</text>
<text x="60.10" y="510.15" font-size="9.6" text-anchor="start" fill="#000">p &lt; 0.001</text>
<text x="36.85" y="583.15" font-size="9.6" text-anchor="start" fill="#000">Patients at risk</text>
<text x="32.00" y="604.35" font-size="9.6" text-anchor="end" fill="#000">no</text>
<text x="32.00" y="620.35" font-size="9.6" text-anchor="end" fill="#000">yes</text>
<text x="46.80" y="604.35" font-size="9.6" text-anchor="middle" fill="#000">2173</text>
<text x="46.80" y="620.35" font-size="9.6" text-anchor="middle" fill="#000">517</text>
<text x="95.00" y="604.35" font-size="9.6" text-anchor="middle" fill="#000">1784</text>
<text x="95.00" y="620.35" font-size="9.6" text-anchor="middle" fill="#000">401</text>
<text x="152.30" y="604.35" font-size="9.6" text-anchor="middle" fill="#000">1358</text>
<text x="152.30" y="620.35" font-size="9.6" text-anchor="middle" fill="#000">297</text>
<text x="210.00" y="604.35" font-size="9.6" text-anchor="middle" fill="#000">1052</text>
<text x="210.00" y="620.35" font-size="9.6" text-anchor="middle" fill="#000">212</text>
<text x="267.30" y="604.35" font-size="9.6" text-anchor="middle" fill="#000">797</text>
<text x="267.30" y="620.35" font-size="9.6" text-anchor="middle" fill="#000">157</text>
<text x="325.10" y="604.35" font-size="9.6" text-anchor="middle" fill="#000">533</text>
<text x="325.10" y="620.35" font-size="9.6" text-anchor="middle" fill="#000">96</text>
<polyline points="44.50,362.30 67.40,363.20 102.40,367.30 144.00,372.50 200.00,380.20 240.00,386.00 265.00,389.50 282.00,391.80 320.00,397.10 326.00,398.00 328.00,398.30" fill="none" stroke="#999999" stroke-width="1.6" stroke-linejoin="miter"/>
<polyline points="44.50,362.50 63.00,362.80 67.40,363.50 68.80,365.00 74.70,368.60 80.50,368.80 80.50,371.50 92.20,371.80 92.20,373.90 110.00,375.50 119.30,376.50 119.30,377.90 126.40,377.90 126.40,379.70 135.70,379.70 135.70,381.40 152.00,381.60 152.00,382.60 168.40,382.80 172.00,385.00 177.70,386.00 181.00,389.00 185.00,390.80 192.00,390.80 192.00,392.60 200.20,392.60 200.20,394.90 220.00,394.90 220.00,396.70 248.00,396.70 248.00,399.00 265.00,399.50 303.70,400.10 303.70,401.30 312.50,401.30 312.50,403.50 325.30,403.50" fill="none" stroke="#000" stroke-width="2.0" stroke-linejoin="miter"/>
<path d="M45.30,359.18V365.48M46.22,359.22V365.52M47.25,359.26V365.56M48.07,359.29V365.59M50.44,359.38V365.68M51.28,359.42V365.72M52.21,359.45V365.75M53.19,359.49V365.79M54.04,359.53V365.83M54.96,359.56V365.86M55.95,359.60V365.90M56.81,359.63V365.93M57.68,359.67V365.97M58.42,359.70V366.00M60.66,359.78V366.08M61.56,359.82V366.12M62.30,359.85V366.15M63.37,359.89V366.19M64.27,359.93V366.23M65.00,359.96V366.26M65.83,359.99V366.29M66.57,360.02V366.32M67.46,360.06V366.36M68.27,360.15V366.45M69.04,360.24V366.54M69.95,360.35V366.65M70.74,360.44V366.74M71.75,360.56V366.86M72.81,360.68V366.98M73.80,360.80V367.10M74.59,360.89V367.19M75.68,361.02V367.32M76.68,361.14V367.44M77.65,361.25V367.55M78.55,361.36V367.66M79.60,361.48V367.78M80.50,361.58V367.88M81.37,361.69V367.99M82.17,361.78V368.08M83.11,361.89V368.19M83.83,361.97V368.27M84.78,362.09V368.39M85.79,362.20V368.50M86.87,362.33V368.63M87.86,362.45V368.75M88.58,362.53V368.83M89.57,362.65V368.95M90.36,362.74V369.04M91.45,362.87V369.17M92.34,362.97V369.27M93.10,363.06V369.36M94.07,363.17V369.47M94.83,363.26V369.56M95.78,363.37V369.67M96.54,363.46V369.76M98.50,363.69V369.99M99.35,363.79V370.09M100.45,363.92V370.22M101.26,364.02V370.32M101.96,364.10V370.40M102.94,364.22V370.52M103.65,364.31V370.61M104.48,364.41V370.71M105.22,364.50V370.80M106.08,364.61V370.91M106.95,364.72V371.02M107.78,364.82V371.12M108.67,364.93V371.23M109.50,365.04V371.34M110.37,365.15V371.45M111.20,365.25V371.55M112.11,365.36V371.66M112.93,365.47V371.77M114.85,365.71V372.01M115.63,365.80V372.10M116.43,365.90V372.20M117.37,366.02V372.32M118.37,366.15V372.45M119.24,366.25V372.55M119.96,366.35V372.65M120.86,366.46V372.76M121.94,366.59V372.89M122.88,366.71V373.01M123.64,366.80V373.10M124.40,366.90V373.20M125.50,367.04V373.34M126.40,367.15V373.45M127.20,367.25V373.55M128.07,367.36V373.66M130.30,367.64V373.94M132.69,367.94V374.24M133.76,368.07V374.37M136.13,368.37V374.67M137.02,368.48V374.78M137.84,368.58V374.88M138.79,368.70V375.00M139.88,368.83V375.13M142.45,369.16V375.46M143.18,369.25V375.55M144.10,369.36V375.66M145.00,369.49V375.79M145.73,369.59V375.89M146.64,369.71V376.01M147.34,369.81V376.11M149.71,370.14V376.44M150.58,370.26V376.56M151.51,370.38V376.68M152.39,370.50V376.80M153.10,370.60V376.90M154.10,370.74V377.04M154.99,370.86V377.16M155.83,370.98V377.28M156.83,371.11V377.41M157.72,371.24V377.54M158.56,371.35V377.65M160.62,371.64V377.94M161.57,371.77V378.07M162.34,371.87V378.17M163.11,371.98V378.28M163.91,372.09V378.39M164.84,372.22V378.52M165.71,372.34V378.64M168.12,372.67V378.97M168.97,372.78V379.08M169.78,372.89V379.19M170.57,373.00V379.30M171.51,373.13V379.43M172.50,373.27V379.57M173.51,373.41V379.71M174.36,373.52V379.82M175.23,373.64V379.94M176.09,373.76V380.06M177.08,373.90V380.20M177.86,374.01V380.31M178.88,374.15V380.45M179.97,374.30V380.60M180.98,374.43V380.73M181.73,374.54V380.84M182.81,374.69V380.99M183.85,374.83V381.13M184.72,374.95V381.25M185.51,375.06V381.36M186.38,375.18V381.48M187.26,375.30V381.60M188.06,375.41V381.71M190.62,375.76V382.06M191.48,375.88V382.18M192.29,375.99V382.29M193.34,376.13V382.43M194.13,376.24V382.54M194.92,376.35V382.65M195.76,376.47V382.77M196.54,376.57V382.87M197.47,376.70V383.00M198.37,376.83V383.13M199.41,376.97V383.27M200.41,377.11V383.41M201.13,377.21V383.51M201.92,377.33V383.63M203.00,377.49V383.79M204.07,377.64V383.94M204.82,377.75V384.05M205.54,377.85V384.15M206.34,377.97V384.27M207.42,378.13V384.43M208.49,378.28V384.58M209.46,378.42V384.72M210.52,378.58V384.88M211.36,378.70V385.00M212.29,378.83V385.13M213.04,378.94V385.24M213.75,379.04V385.34M214.59,379.17V385.47M215.42,379.29V385.59M216.25,379.41V385.71M217.11,379.53V385.83M217.93,379.65V385.95M218.94,379.80V386.10M219.95,379.94V386.24M220.69,380.05V386.35M221.73,380.20V386.50M222.59,380.32V386.62M223.62,380.48V386.78M224.47,380.60V386.90M225.17,380.70V387.00M226.06,380.83V387.13M226.95,380.96V387.26M227.93,381.10V387.40M229.02,381.26V387.56M230.07,381.41V387.71M231.09,381.56V387.86M231.82,381.66V387.96M232.86,381.81V388.11M233.91,381.97V388.27M234.63,382.07V388.37M235.37,382.18V388.48M236.25,382.31V388.61M237.27,382.45V388.75M238.24,382.59V388.89M239.16,382.73V389.03M240.22,382.88V389.18M240.95,382.98V389.28M241.76,383.10V389.40M242.47,383.20V389.50M243.46,383.33V389.63M245.72,383.65V389.95M246.50,383.76V390.06M247.50,383.90V390.20M248.51,384.04V390.34M249.21,384.14V390.44M250.13,384.27V390.57M250.91,384.38V390.68M251.67,384.48V390.78M252.54,384.61V390.91M253.51,384.74V391.04M254.50,384.88V391.18M255.55,385.03V391.33M256.34,385.14V391.44M257.40,385.29V391.59M258.26,385.41V391.71M259.24,385.54V391.84M260.07,385.66V391.96M261.08,385.80V392.10M261.81,385.90V392.20M262.80,386.04V392.34M263.66,386.16V392.46M264.54,386.29V392.59M265.28,386.39V392.69M266.22,386.51V392.81M267.30,386.66V392.96M268.18,386.78V393.08M269.12,386.91V393.21M270.02,387.03V393.33M270.91,387.15V393.45M271.69,387.26V393.56M272.51,387.37V393.67M273.24,387.46V393.76M274.12,387.58V393.88M274.90,387.69V393.99M275.65,387.79V394.09M276.58,387.92V394.22M278.61,388.19V394.49M279.69,388.34V394.64M280.61,388.46V394.76M281.58,388.59V394.89M282.55,388.73V395.03M284.75,389.03V395.33M285.47,389.13V395.43M286.30,389.25V395.55M287.25,389.38V395.68M288.15,389.51V395.81M289.06,389.63V395.93M289.78,389.74V396.04M290.63,389.85V396.15M291.47,389.97V396.27M293.39,390.24V396.54M294.13,390.34V396.64M295.06,390.47V396.77M296.05,390.61V396.91M296.77,390.71V397.01M297.56,390.82V397.12M298.32,390.93V397.23M299.12,391.04V397.34M300.15,391.18V397.48M300.91,391.29V397.59M301.89,391.42V397.72M304.43,391.78V398.08M305.51,391.93V398.23M306.45,392.06V398.36M307.26,392.17V398.47M308.01,392.28V398.58M309.03,392.42V398.72M310.03,392.56V398.86M311.08,392.71V399.01M312.05,392.84V399.14M312.77,392.94V399.24M313.62,393.06V399.36M314.58,393.19V399.49M315.58,393.33V399.63M316.56,393.47V399.77M317.46,393.60V399.90M318.49,393.74V400.04M319.33,393.86V400.16M320.12,393.97V400.27M320.82,394.07V400.37M321.71,394.21V400.51M322.64,394.35V400.65M323.73,394.51V400.81M324.66,394.65V400.95M325.72,394.81V401.11M326.75,394.96V401.26" stroke="#999999" stroke-width="1.3" fill="none"/>
<path d="M322.20,403.50H328.40M325.30,400.40V406.60M41.90,362.51H48.10M45.00,359.41V365.61M43.23,362.53H49.43M46.33,359.43V365.63M44.30,362.55H50.50M47.40,359.45V365.65M45.25,362.56H51.45M48.35,359.46V365.66M46.51,362.58H52.71M49.61,359.48V365.68M47.46,362.60H53.66M50.56,359.50V365.70M48.79,362.62H54.99M51.89,359.52V365.72M49.99,362.64H56.19M53.09,359.54V365.74M51.90,362.67H58.10M55.00,359.57V365.77M54.64,362.71H60.84M57.74,359.61V365.81M57.29,362.76H63.49M60.39,359.66V365.86M61.02,362.98H67.22M64.12,359.88V366.08M64.31,363.51H70.51M67.41,360.41V366.61M67.09,365.85H73.29M70.19,362.75V368.95M70.20,367.74H76.40M73.30,364.64V370.84M73.08,368.65H79.28M76.18,365.55V371.75M76.34,368.76H82.54M79.44,365.66V371.86M77.90,371.51H84.10M81.00,368.41V374.61M78.86,371.54H85.06M81.96,368.44V374.64M80.28,371.57H86.48M83.38,368.47V374.67M81.63,371.61H87.83M84.73,368.51V374.71M82.90,371.64H89.10M86.00,368.54V374.74M83.85,371.67H90.05M86.95,368.57V374.77M84.75,371.69H90.95M87.85,368.59V374.79M86.00,371.72H92.20M89.10,368.62V374.82M87.32,371.75H93.52M90.42,368.65V374.85M88.52,371.79H94.72M91.62,368.69V374.89M89.43,373.93H95.63M92.53,370.83V377.03M90.67,374.04H96.87M93.77,370.94V377.14M91.79,374.14H97.99M94.89,371.04V377.24M92.81,374.23H99.01M95.91,371.13V377.33M93.96,374.34H100.16M97.06,371.24V377.44M95.03,374.43H101.23M98.13,371.33V377.53M96.23,374.54H102.43M99.33,371.44V377.64M97.50,374.65H103.70M100.60,371.55V377.75M98.91,374.78H105.11M102.01,371.68V377.88M99.76,374.86H105.96M102.86,371.76V377.96M100.90,374.96H107.10M104.00,371.86V378.06M102.30,375.09H108.50M105.40,371.99V378.19M103.50,375.19H109.70M106.60,372.09V378.29M104.65,375.30H110.85M107.75,372.20V378.40M105.99,375.42H112.19M109.09,372.32V378.52M106.78,375.49H112.98M109.88,372.39V378.59M108.07,375.63H114.27M111.17,372.53V378.73M109.25,375.75H115.45M112.35,372.65V378.85M110.41,375.88H116.61M113.51,372.78V378.98M111.38,375.98H117.58M114.48,372.88V379.08M112.56,376.11H118.76M115.66,373.01V379.21M113.41,376.20H119.61M116.51,373.10V379.30M114.53,376.32H120.73M117.63,373.22V379.42M115.47,376.42H121.67M118.57,373.32V379.52M116.86,377.90H123.06M119.96,374.80V381.00M118.16,377.90H124.36M121.26,374.80V381.00M119.24,377.90H125.44M122.34,374.80V381.00M120.51,377.90H126.71M123.61,374.80V381.00M121.53,377.90H127.73M124.63,374.80V381.00M121.90,377.90H128.10M125.00,374.80V381.00M124.21,379.70H130.41M127.31,376.60V382.80M127.73,379.70H133.93M130.83,376.60V382.80M131.09,379.70H137.29M134.19,376.60V382.80M134.45,381.42H140.65M137.55,378.32V384.52M136.62,381.45H142.82M139.72,378.35V384.55M140.08,381.49H146.28M143.18,378.39V384.59M142.13,381.52H148.33M145.23,378.42V384.62M145.14,381.55H151.34M148.24,378.45V384.65M148.02,381.59H154.22M151.12,378.49V384.69M150.15,382.62H156.35M153.25,379.52V385.72M152.92,382.65H159.12M156.02,379.55V385.75M156.49,382.69H162.69M159.59,379.59V385.79M159.61,382.73H165.81M162.71,379.63V385.83M162.18,382.76H168.38M165.28,379.66V385.86M165.63,383.00H171.83M168.73,379.90V386.10M168.28,384.62H174.48M171.38,381.52V387.72M171.87,385.52H178.07M174.97,382.42V388.62M174.60,386.00H180.80M177.70,382.90V389.10M176.76,387.97H182.96M179.86,384.87V391.07M180.48,390.16H186.68M183.58,387.06V393.26M182.64,390.80H188.84M185.74,387.70V393.90M185.11,390.80H191.31M188.21,387.70V393.90M188.48,390.80H194.68M191.58,387.70V393.90M190.71,392.60H196.91M193.81,389.50V395.70M193.69,392.60H199.89M196.79,389.50V395.70M197.21,394.90H203.41M200.31,391.80V398.00M200.27,394.90H206.47M203.37,391.80V398.00M202.90,394.90H209.10M206.00,391.80V398.00M206.25,394.90H212.45M209.35,391.80V398.00M209.72,394.90H215.92M212.82,391.80V398.00M212.76,394.90H218.96M215.86,391.80V398.00M215.88,394.90H222.08M218.98,391.80V398.00M218.47,396.70H224.67M221.57,393.60V399.80M221.21,396.70H227.41M224.31,393.60V399.80M224.96,396.70H231.16M228.06,393.60V399.80M228.68,396.70H234.88M231.78,393.60V399.80M230.72,396.70H236.92M233.82,393.60V399.80M233.09,396.70H239.29M236.19,393.60V399.80M235.51,396.70H241.71M238.61,393.60V399.80M238.92,396.70H245.12M242.02,393.60V399.80M241.30,396.70H247.50M244.40,393.60V399.80M243.62,396.70H249.82M246.72,393.60V399.80M246.99,399.06H253.19M250.09,395.96V402.16M249.31,399.13H255.51M252.41,396.03V402.23M253.04,399.24H259.24M256.14,396.14V402.34M255.86,399.32H262.06M258.96,396.22V402.42M259.46,399.43H265.66M262.56,396.33V402.53M262.91,399.52H269.11M266.01,396.42V402.62M265.30,399.55H271.50M268.40,396.45V402.65M268.70,399.61H274.90M271.80,396.51V402.71M271.45,399.65H277.65M274.55,396.55V402.75M273.87,399.69H280.07M276.97,396.59V402.79M275.98,399.72H282.18M279.08,396.62V402.82M279.23,399.77H285.43M282.33,396.67V402.87M282.24,399.82H288.44M285.34,396.72V402.92M284.80,399.85H291.00M287.90,396.75V402.95M288.28,399.91H294.48M291.38,396.81V403.01M290.65,399.95H296.85M293.75,396.85V403.05M293.45,399.99H299.65M296.55,396.89V403.09M295.63,400.02H301.83M298.73,396.92V403.12M298.27,400.06H304.47M301.37,396.96V403.16M301.84,401.30H308.04M304.94,398.20V404.40M304.74,401.30H310.94M307.84,398.20V404.40M307.04,401.30H313.24M310.14,398.20V404.40M309.48,403.50H315.68M312.58,400.40V406.60M312.63,403.50H318.83M315.73,400.40V406.60M315.15,403.50H321.35M318.25,400.40V406.60M318.72,403.50H324.92M321.82,400.40V406.60M320.86,403.50H327.06M323.96,400.40V406.60" stroke="#000" stroke-width="1.3" fill="none"/>
<text x="360.05" y="334.50" font-size="14.2" text-anchor="start" fill="#000">D</text>
<text x="444.87" y="334.75" font-size="9.6" text-anchor="start" fill="#000">Persistent severe fatigue</text>
<line x1="556.13" y1="331.35" x2="569.93" y2="331.35" stroke="#999999" stroke-width="1.9"/>
<line x1="562.53" y1="328.25" x2="562.53" y2="334.45" stroke="#999999" stroke-width="1.3"/>
<text x="576.53" y="334.75" font-size="9.6" text-anchor="start" fill="#000">no</text>
<line x1="594.33" y1="331.35" x2="608.13" y2="331.35" stroke="#000" stroke-width="1.9"/>
<line x1="601.23" y1="328.25" x2="601.23" y2="334.45" stroke="#000" stroke-width="1.3"/>
<text x="615.33" y="334.75" font-size="9.6" text-anchor="start" fill="#000">yes</text>
<line x1="391.40" y1="357.05" x2="391.40" y2="532.40" stroke="#000" stroke-width="1.25" stroke-linecap="square"/>
<line x1="391.40" y1="532.40" x2="683.70" y2="532.40" stroke="#000" stroke-width="1.25" stroke-linecap="square"/>
<line x1="388.20" y1="532.40" x2="391.40" y2="532.40" stroke="#000" stroke-width="1.2"/>
<text x="386.05" y="536.30" font-size="11" text-anchor="end" fill="#222">0.00</text>
<line x1="388.20" y1="489.80" x2="391.40" y2="489.80" stroke="#000" stroke-width="1.2"/>
<text x="386.05" y="493.70" font-size="11" text-anchor="end" fill="#222">0.25</text>
<line x1="388.20" y1="447.20" x2="391.40" y2="447.20" stroke="#000" stroke-width="1.2"/>
<text x="386.05" y="451.10" font-size="11" text-anchor="end" fill="#222">0.50</text>
<line x1="388.20" y1="404.60" x2="391.40" y2="404.60" stroke="#000" stroke-width="1.2"/>
<text x="386.05" y="408.50" font-size="11" text-anchor="end" fill="#222">0.75</text>
<line x1="388.20" y1="362.00" x2="391.40" y2="362.00" stroke="#000" stroke-width="1.2"/>
<text x="386.05" y="365.90" font-size="11" text-anchor="end" fill="#222">1.00</text>
<line x1="391.40" y1="532.40" x2="391.40" y2="535.60" stroke="#000" stroke-width="1.2"/>
<text x="391.40" y="545.90" font-size="11" text-anchor="middle" fill="#222">0</text>
<line x1="461.00" y1="532.40" x2="461.00" y2="535.60" stroke="#000" stroke-width="1.2"/>
<text x="461.00" y="545.90" font-size="11" text-anchor="middle" fill="#222">1</text>
<line x1="530.60" y1="532.40" x2="530.60" y2="535.60" stroke="#000" stroke-width="1.2"/>
<text x="530.60" y="545.90" font-size="11" text-anchor="middle" fill="#222">2</text>
<line x1="600.20" y1="532.40" x2="600.20" y2="535.60" stroke="#000" stroke-width="1.2"/>
<text x="600.20" y="545.90" font-size="11" text-anchor="middle" fill="#222">3</text>
<line x1="669.80" y1="532.40" x2="669.80" y2="535.60" stroke="#000" stroke-width="1.2"/>
<text x="669.80" y="545.90" font-size="11" text-anchor="middle" fill="#222">4</text>
<text x="537.55" y="561.80" font-size="13.5" text-anchor="middle" fill="#000">Follow-up time since FU1 (years)</text>
<text x="0" y="0" font-size="13.5" text-anchor="middle" transform="translate(358.00,444.73) rotate(-90)">Proportion of patients survived</text>
<text x="406.17" y="493.15" font-size="9.6" text-anchor="start" fill="#000">Adjusted HR = 1.57 [0.93, 2.65],</text>
<text x="403.50" y="509.85" font-size="9.6" text-anchor="start" fill="#000">p = 0.0882</text>
<text x="383.95" y="583.15" font-size="9.6" text-anchor="start" fill="#000">Patients at risk</text>
<text x="378.60" y="604.35" font-size="9.6" text-anchor="end" fill="#000">no</text>
<text x="378.60" y="620.35" font-size="9.6" text-anchor="end" fill="#000">yes</text>
<text x="394.00" y="604.35" font-size="9.6" text-anchor="middle" fill="#000">1843</text>
<text x="394.00" y="620.35" font-size="9.6" text-anchor="middle" fill="#000">91</text>
<text x="455.70" y="604.35" font-size="9.6" text-anchor="middle" fill="#000">1507</text>
<text x="455.70" y="620.35" font-size="9.6" text-anchor="middle" fill="#000">70</text>
<text x="526.80" y="604.35" font-size="9.6" text-anchor="middle" fill="#000">1171</text>
<text x="526.80" y="620.35" font-size="9.6" text-anchor="middle" fill="#000">52</text>
<text x="597.70" y="604.35" font-size="9.6" text-anchor="middle" fill="#000">880</text>
<text x="597.70" y="620.35" font-size="9.6" text-anchor="middle" fill="#000">40</text>
<text x="669.50" y="604.35" font-size="9.6" text-anchor="middle" fill="#000">572</text>
<text x="669.50" y="620.35" font-size="9.6" text-anchor="middle" fill="#000">24</text>
<polyline points="391.40,362.60 393.30,363.50 420.00,367.80 453.70,372.50 478.00,375.00 498.00,377.20 538.00,381.60 595.00,388.60 640.00,392.00 671.00,394.30 672.50,394.40" fill="none" stroke="#999999" stroke-width="1.6" stroke-linejoin="miter"/>
<polyline points="391.40,362.20 393.00,362.20 393.00,367.50 406.40,367.50 406.40,368.80 409.70,368.80 409.70,370.10 419.50,370.10 419.50,371.80 426.10,371.80 426.10,373.40 432.00,373.40 432.00,375.60 468.10,375.60 468.10,378.40 481.50,378.40 481.50,380.50 505.30,380.50 505.30,385.80 565.70,385.80 565.70,389.10 577.00,389.10 577.00,392.20 641.00,392.20 641.00,396.00 644.30,396.00 644.30,400.60 672.50,400.60" fill="none" stroke="#000" stroke-width="2.0" stroke-linejoin="miter"/>
<path d="M392.20,359.83V366.13M393.23,360.32V366.62M393.96,360.46V366.76M396.30,360.83V367.13M398.27,361.15V367.45M399.32,361.32V367.62M400.36,361.49V367.79M401.41,361.66V367.96M402.33,361.80V368.10M403.04,361.92V368.22M405.12,362.25V368.55M405.86,362.37V368.67M406.80,362.52V368.82M407.85,362.69V368.99M410.37,363.10V369.40M411.18,363.23V369.53M413.64,363.63V369.93M414.66,363.79V370.09M415.60,363.94V370.24M417.66,364.27V370.57M418.66,364.43V370.73M421.21,364.82V371.12M423.79,365.18V371.48M426.26,365.52V371.82M427.35,365.67V371.97M428.32,365.81V372.11M429.36,365.96V372.26M431.88,366.31V372.61M432.60,366.41V372.71M433.43,366.52V372.82M435.51,366.81V373.11M437.61,367.11V373.41M438.70,367.26V373.56M439.74,367.40V373.70M440.73,367.54V373.84M441.53,367.65V373.95M443.81,367.97V374.27M446.23,368.31V374.61M447.16,368.44V374.74M448.11,368.57V374.87M450.19,368.86V375.16M450.98,368.97V375.27M452.06,369.12V375.42M453.15,369.27V375.57M454.23,369.40V375.70M455.23,369.51V375.81M456.01,369.59V375.89M456.94,369.68V375.98M457.90,369.78V376.08M458.92,369.89V376.19M459.68,369.96V376.26M460.63,370.06V376.36M461.33,370.13V376.43M463.91,370.40V376.70M464.89,370.50V376.80M465.75,370.59V376.89M466.68,370.69V376.99M467.59,370.78V377.08M468.41,370.86V377.16M469.36,370.96V377.26M470.41,371.07V377.37M472.98,371.33V377.63M473.79,371.42V377.72M474.53,371.49V377.79M477.01,371.75V378.05M478.06,371.86V378.16M480.04,372.07V378.37M480.93,372.17V378.47M481.75,372.26V378.56M482.69,372.37V378.67M483.70,372.48V378.78M486.02,372.73V379.03M487.95,372.94V379.24M488.85,373.04V379.34M489.70,373.14V379.44M490.72,373.25V379.55M492.62,373.46V379.76M493.49,373.55V379.85M495.51,373.78V380.08M496.28,373.86V380.16M497.25,373.97V380.27M498.21,374.07V380.37M499.23,374.19V380.49M500.18,374.29V380.59M501.14,374.40V380.70M502.07,374.50V380.80M503.07,374.61V380.91M505.47,374.87V381.17M506.19,374.95V381.25M507.28,375.07V381.37M509.75,375.34V381.64M510.48,375.42V381.72M511.18,375.50V381.80M512.00,375.59V381.89M513.06,375.71V382.01M515.25,375.95V382.25M517.68,376.21V382.51M519.63,376.43V382.73M522.13,376.70V383.00M524.25,376.94V383.24M525.18,377.04V383.34M526.25,377.16V383.46M527.14,377.26V383.56M527.94,377.34V383.64M530.43,377.62V383.92M531.48,377.73V384.03M532.33,377.83V384.13M533.07,377.91V384.21M533.95,378.00V384.30M534.72,378.09V384.39M537.23,378.37V384.67M539.52,378.64V384.94M540.43,378.75V385.05M541.29,378.85V385.15M543.76,379.16V385.46M544.69,379.27V385.57M545.75,379.40V385.70M547.77,379.65V385.95M548.81,379.78V386.08M549.55,379.87V386.17M550.31,379.96V386.26M551.41,380.10V386.40M552.41,380.22V386.52M554.91,380.53V386.83M555.61,380.61V386.91M556.68,380.74V387.04M558.90,381.02V387.32M559.73,381.12V387.42M560.75,381.24V387.54M561.84,381.38V387.68M562.89,381.51V387.81M563.67,381.60V387.90M564.60,381.72V388.02M565.52,381.83V388.13M566.30,381.93V388.23M567.15,382.03V388.33M569.73,382.35V388.65M570.70,382.47V388.77M571.46,382.56V388.86M572.50,382.69V388.99M573.56,382.82V389.12M574.62,382.95V389.25M576.83,383.22V389.52M578.83,383.46V389.76M579.68,383.57V389.87M580.47,383.67V389.97M581.30,383.77V390.07M582.03,383.86V390.16M583.07,383.98V390.28M583.87,384.08V390.38M584.62,384.17V390.47M586.53,384.41V390.71M587.57,384.54V390.84M588.39,384.64V390.94M589.12,384.73V391.03M591.48,385.02V391.32M593.75,385.30V391.60M596.07,385.53V391.83M596.95,385.60V391.90M597.90,385.67V391.97M598.62,385.72V392.02M600.79,385.89V392.19M601.60,385.95V392.25M602.40,386.01V392.31M603.24,386.07V392.37M605.20,386.22V392.52M607.25,386.38V392.68M608.11,386.44V392.74M609.20,386.52V392.82M610.20,386.60V392.90M612.33,386.76V393.06M613.14,386.82V393.12M613.92,386.88V393.18M616.35,387.06V393.36M617.22,387.13V393.43M618.17,387.20V393.50M618.88,387.25V393.55M619.76,387.32V393.62M620.85,387.40V393.70M621.69,387.47V393.77M623.89,387.63V393.93M624.74,387.70V394.00M627.05,387.87V394.17M628.05,387.95V394.25M628.87,388.01V394.31M629.75,388.08V394.38M631.84,388.23V394.53M634.04,388.40V394.70M635.12,388.48V394.78M635.88,388.54V394.84M637.92,388.69V394.99M638.88,388.77V395.07M641.12,388.93V395.23M642.09,389.00V395.30M642.94,389.07V395.37M643.75,389.13V395.43M644.71,389.20V395.50M646.97,389.37V395.67M647.74,389.42V395.72M650.22,389.61V395.91M650.99,389.67V395.97M651.90,389.73V396.03M652.74,389.80V396.10M653.53,389.85V396.15M654.47,389.92V396.22M656.78,390.10V396.40M657.88,390.18V396.48M658.63,390.23V396.53M659.47,390.29V396.59M661.98,390.48V396.78M662.99,390.56V396.86M664.08,390.64V396.94M665.05,390.71V397.01M666.10,390.79V397.09M666.92,390.85V397.15M669.20,391.02V397.32M670.04,391.08V397.38M671.08,391.16V397.46M672.00,391.22V397.52" stroke="#999999" stroke-width="1.3" fill="none"/>
<path d="M394.10,367.50H400.30M397.20,364.40V370.60M403.90,368.80H410.10M407.00,365.70V371.90M405.90,368.80H412.10M409.00,365.70V371.90M419.70,371.80H425.90M422.80,368.70V374.90M424.30,373.40H430.50M427.40,370.30V376.50M446.70,375.60H452.90M449.80,372.50V378.70M451.90,375.60H458.10M455.00,372.50V378.70M453.20,375.60H459.40M456.30,372.50V378.70M454.50,375.60H460.70M457.60,372.50V378.70M455.80,375.60H462.00M458.90,372.50V378.70M457.10,375.60H463.30M460.20,372.50V378.70M458.40,375.60H464.60M461.50,372.50V378.70M459.70,375.60H465.90M462.80,372.50V378.70M462.40,375.60H468.60M465.50,372.50V378.70M472.30,378.40H478.50M475.40,375.30V381.50M477.90,378.40H484.10M481.00,375.30V381.50M491.10,380.50H497.30M494.20,377.40V383.60M523.20,385.80H529.40M526.30,382.70V388.90M526.90,385.80H533.10M530.00,382.70V388.90M530.90,385.80H537.10M534.00,382.70V388.90M533.90,385.80H540.10M537.00,382.70V388.90M537.70,385.80H543.90M540.80,382.70V388.90M547.30,385.80H553.50M550.40,382.70V388.90M569.80,389.10H576.00M572.90,386.00V392.20M595.20,392.20H601.40M598.30,389.10V395.30M596.20,392.20H602.40M599.30,389.10V395.30M598.20,392.20H604.40M601.30,389.10V395.30M601.90,392.20H608.10M605.00,389.10V395.30M607.00,392.20H613.20M610.10,389.10V395.30M624.10,392.20H630.30M627.20,389.10V395.30M628.10,392.20H634.30M631.20,389.10V395.30M635.40,392.20H641.60M638.50,389.10V395.30M645.80,400.60H652.00M648.90,397.50V403.70M652.30,400.60H658.50M655.40,397.50V403.70M658.90,400.60H665.10M662.00,397.50V403.70M661.40,400.60H667.60M664.50,397.50V403.70M663.90,400.60H670.10M667.00,397.50V403.70M665.50,400.60H671.70M668.60,397.50V403.70" stroke="#000" stroke-width="1.3" fill="none"/>
<text x="12.95" y="658.25" font-size="14.2" text-anchor="start" fill="#000">E</text>
<text x="110.46" y="658.50" font-size="9.6" text-anchor="start" fill="#000">Severe weight loss</text>
<line x1="196.64" y1="655.10" x2="210.44" y2="655.10" stroke="#999999" stroke-width="1.9"/>
<line x1="203.04" y1="652.00" x2="203.04" y2="658.20" stroke="#999999" stroke-width="1.3"/>
<text x="217.04" y="658.50" font-size="9.6" text-anchor="start" fill="#000">no</text>
<line x1="234.84" y1="655.10" x2="248.64" y2="655.10" stroke="#000" stroke-width="1.9"/>
<line x1="241.74" y1="652.00" x2="241.74" y2="658.20" stroke="#000" stroke-width="1.3"/>
<text x="255.84" y="658.50" font-size="9.6" text-anchor="start" fill="#000">yes</text>
<line x1="44.45" y1="680.80" x2="44.45" y2="856.15" stroke="#000" stroke-width="1.25" stroke-linecap="square"/>
<line x1="44.45" y1="856.15" x2="336.75" y2="856.15" stroke="#000" stroke-width="1.25" stroke-linecap="square"/>
<line x1="41.25" y1="856.15" x2="44.45" y2="856.15" stroke="#000" stroke-width="1.2"/>
<text x="39.10" y="860.05" font-size="11" text-anchor="end" fill="#222">0.00</text>
<line x1="41.25" y1="813.55" x2="44.45" y2="813.55" stroke="#000" stroke-width="1.2"/>
<text x="39.10" y="817.45" font-size="11" text-anchor="end" fill="#222">0.25</text>
<line x1="41.25" y1="770.95" x2="44.45" y2="770.95" stroke="#000" stroke-width="1.2"/>
<text x="39.10" y="774.85" font-size="11" text-anchor="end" fill="#222">0.50</text>
<line x1="41.25" y1="728.35" x2="44.45" y2="728.35" stroke="#000" stroke-width="1.2"/>
<text x="39.10" y="732.25" font-size="11" text-anchor="end" fill="#222">0.75</text>
<line x1="41.25" y1="685.75" x2="44.45" y2="685.75" stroke="#000" stroke-width="1.2"/>
<text x="39.10" y="689.65" font-size="11" text-anchor="end" fill="#222">1.00</text>
<line x1="44.45" y1="856.15" x2="44.45" y2="859.35" stroke="#000" stroke-width="1.2"/>
<text x="44.45" y="869.65" font-size="11" text-anchor="middle" fill="#222">0</text>
<line x1="100.62" y1="856.15" x2="100.62" y2="859.35" stroke="#000" stroke-width="1.2"/>
<text x="100.62" y="869.65" font-size="11" text-anchor="middle" fill="#222">1</text>
<line x1="156.79" y1="856.15" x2="156.79" y2="859.35" stroke="#000" stroke-width="1.2"/>
<text x="156.79" y="869.65" font-size="11" text-anchor="middle" fill="#222">2</text>
<line x1="212.96" y1="856.15" x2="212.96" y2="859.35" stroke="#000" stroke-width="1.2"/>
<text x="212.96" y="869.65" font-size="11" text-anchor="middle" fill="#222">3</text>
<line x1="269.13" y1="856.15" x2="269.13" y2="859.35" stroke="#000" stroke-width="1.2"/>
<text x="269.13" y="869.65" font-size="11" text-anchor="middle" fill="#222">4</text>
<line x1="325.30" y1="856.15" x2="325.30" y2="859.35" stroke="#000" stroke-width="1.2"/>
<text x="325.30" y="869.65" font-size="11" text-anchor="middle" fill="#222">5</text>
<text x="190.60" y="885.55" font-size="13.5" text-anchor="middle" fill="#000">Follow-up time since baseline (years)</text>
<text x="0" y="0" font-size="13.5" text-anchor="middle" transform="translate(10.90,768.47) rotate(-90)">Proportion of patients survived</text>
<text x="62.77" y="817.30" font-size="9.6" text-anchor="start" fill="#000">Adjusted HR = 3.48 [2.43, 5.00],</text>
<text x="60.10" y="833.90" font-size="9.6" text-anchor="start" fill="#000">p &lt; 0.001</text>
<text x="36.85" y="906.90" font-size="9.6" text-anchor="start" fill="#000">Patients at risk</text>
<text x="32.00" y="928.10" font-size="9.6" text-anchor="end" fill="#000">no</text>
<text x="32.00" y="944.10" font-size="9.6" text-anchor="end" fill="#000">yes</text>
<text x="46.80" y="928.10" font-size="9.6" text-anchor="middle" fill="#000">2596</text>
<text x="46.80" y="944.10" font-size="9.6" text-anchor="middle" fill="#000">94</text>
<text x="95.00" y="928.10" font-size="9.6" text-anchor="middle" fill="#000">2127</text>
<text x="95.00" y="944.10" font-size="9.6" text-anchor="middle" fill="#000">58</text>
<text x="152.30" y="928.10" font-size="9.6" text-anchor="middle" fill="#000">1617</text>
<text x="152.30" y="944.10" font-size="9.6" text-anchor="middle" fill="#000">38</text>
<text x="210.00" y="928.10" font-size="9.6" text-anchor="middle" fill="#000">1241</text>
<text x="210.00" y="944.10" font-size="9.6" text-anchor="middle" fill="#000">23</text>
<text x="267.30" y="928.10" font-size="9.6" text-anchor="middle" fill="#000">936</text>
<text x="267.30" y="944.10" font-size="9.6" text-anchor="middle" fill="#000">18</text>
<text x="325.10" y="928.10" font-size="9.6" text-anchor="middle" fill="#000">620</text>
<text x="325.10" y="944.10" font-size="9.6" text-anchor="middle" fill="#000">9</text>
<line x1="44.20" y1="770.85" x2="246.60" y2="770.85" stroke="#000" stroke-width="1.1" stroke-dasharray="4.2 4.1"/>
<line x1="246.60" y1="770.85" x2="246.60" y2="856.10" stroke="#000" stroke-width="1.1" stroke-dasharray="4.2 4.1"/>
<polyline points="44.20,684.40 67.40,686.70 102.40,691.10 144.00,696.50 193.60,703.30 242.00,709.90 283.80,714.30 325.40,720.80 327.60,721.10" fill="none" stroke="#999999" stroke-width="1.6" stroke-linejoin="miter"/>
<polyline points="44.20,687.60 55.10,687.60 55.10,689.00 57.50,689.00 57.50,691.10 68.00,691.10 68.00,692.80 69.50,692.80 69.50,694.50 70.30,694.50 70.30,697.50 80.20,697.50 80.20,701.00 81.40,701.00 81.40,703.40 83.70,703.40 83.70,704.50 85.50,704.50 85.50,706.90 87.20,706.90 87.20,708.00 89.00,708.00 89.00,709.80 90.70,709.80 90.70,711.50 91.90,711.50 91.90,713.90 93.00,713.90 93.00,715.00 95.40,715.00 95.40,716.20 97.70,716.20 97.70,717.40 100.00,717.40 100.00,719.10 115.20,719.10 115.20,721.50 117.60,721.50 117.60,729.60 123.00,729.60 123.00,732.70 135.00,732.70 135.00,741.40 169.30,741.40 169.30,743.80 179.50,743.80 179.50,751.00 183.00,751.00 183.00,754.50 195.20,754.50 195.20,758.70 204.50,758.70 204.50,762.20 220.90,762.20 220.90,766.40 246.60,766.40 246.60,770.85 326.00,770.85" fill="none" stroke="#000" stroke-width="2.0" stroke-linejoin="miter"/>
<path d="M45.00,681.33V687.63M45.75,681.40V687.70M46.70,681.50V687.80M47.48,681.57V687.87M48.36,681.66V687.96M49.10,681.74V688.04M49.97,681.82V688.12M50.97,681.92V688.22M51.85,682.01V688.31M52.73,682.10V688.40M54.81,682.30V688.60M55.56,682.38V688.68M56.60,682.48V688.78M57.51,682.57V688.87M58.50,682.67V688.97M59.51,682.77V689.07M62.00,683.01V689.31M62.95,683.11V689.41M63.95,683.21V689.51M64.89,683.30V689.60M65.92,683.40V689.70M66.70,683.48V689.78M67.78,683.60V689.90M68.56,683.70V690.00M69.64,683.83V690.13M70.65,683.96V690.26M71.46,684.06V690.36M72.28,684.16V690.46M73.18,684.28V690.58M73.93,684.37V690.67M74.91,684.49V690.79M75.63,684.58V690.88M76.43,684.69V690.99M77.43,684.81V691.11M78.43,684.94V691.24M79.28,685.04V691.34M80.32,685.17V691.47M81.35,685.30V691.60M82.36,685.43V691.73M83.23,685.54V691.84M85.35,685.81V692.11M87.44,686.07V692.37M88.25,686.17V692.47M88.99,686.26V692.56M89.89,686.38V692.68M90.97,686.51V692.81M91.77,686.61V692.91M92.85,686.75V693.05M93.81,686.87V693.17M94.51,686.96V693.26M95.34,687.06V693.36M96.20,687.17V693.47M97.02,687.27V693.57M97.82,687.37V693.67M98.71,687.49V693.79M99.55,687.59V693.89M100.40,687.70V694.00M101.43,687.83V694.13M102.46,687.96V694.26M103.50,688.09V694.39M104.41,688.21V694.51M106.37,688.47V694.77M107.42,688.60V694.90M108.33,688.72V695.02M109.07,688.82V695.12M110.17,688.96V695.26M111.12,689.08V695.38M112.08,689.21V695.51M112.87,689.31V695.61M113.94,689.45V695.75M114.80,689.56V695.86M115.83,689.69V695.99M116.83,689.82V696.12M117.61,689.92V696.22M120.02,690.24V696.54M120.73,690.33V696.63M121.56,690.44V696.74M122.55,690.57V696.87M123.49,690.69V696.99M124.33,690.80V697.10M125.20,690.91V697.21M126.17,691.04V697.34M126.94,691.14V697.44M127.94,691.27V697.57M128.84,691.38V697.68M129.66,691.49V697.79M130.58,691.61V697.91M131.32,691.70V698.00M132.17,691.81V698.11M133.17,691.94V698.24M133.96,692.05V698.35M135.05,692.19V698.49M135.99,692.31V698.61M137.00,692.44V698.74M138.03,692.58V698.88M139.06,692.71V699.01M139.99,692.83V699.13M142.02,693.09V699.39M142.89,693.21V699.51M143.85,693.33V699.63M144.61,693.43V699.73M145.60,693.57V699.87M146.66,693.71V700.01M147.56,693.84V700.14M148.29,693.94V700.24M149.07,694.04V700.34M149.90,694.16V700.46M150.93,694.30V700.60M151.64,694.40V700.70M152.66,694.54V700.84M153.71,694.68V700.98M154.65,694.81V701.11M155.57,694.94V701.24M156.39,695.05V701.35M157.22,695.16V701.46M158.27,695.31V701.61M159.29,695.45V701.75M160.19,695.57V701.87M160.97,695.68V701.98M161.88,695.80V702.10M162.61,695.90V702.20M163.35,696.00V702.30M164.06,696.10V702.40M164.82,696.20V702.50M165.67,696.32V702.62M166.54,696.44V702.74M167.58,696.58V702.88M168.48,696.71V703.01M169.58,696.86V703.16M170.30,696.96V703.26M171.38,697.10V703.40M172.23,697.22V703.52M173.04,697.33V703.63M173.81,697.44V703.74M174.62,697.55V703.85M175.60,697.68V703.98M176.50,697.81V704.11M177.31,697.92V704.22M178.26,698.05V704.35M179.07,698.16V704.46M179.98,698.28V704.58M180.87,698.41V704.71M181.65,698.51V704.81M182.54,698.63V704.93M183.42,698.75V705.05M184.27,698.87V705.17M185.37,699.02V705.32M186.16,699.13V705.43M187.24,699.28V705.58M187.97,699.38V705.68M189.06,699.53V705.83M189.93,699.65V705.95M190.98,699.79V706.09M191.96,699.92V706.22M192.88,700.05V706.35M193.66,700.16V706.46M194.42,700.26V706.56M195.14,700.36V706.66M197.66,700.70V707.00M198.69,700.84V707.14M199.57,700.96V707.26M200.58,701.10V707.40M201.49,701.23V707.53M202.53,701.37V707.67M203.23,701.46V707.76M204.28,701.61V707.91M205.23,701.74V708.04M206.04,701.85V708.15M206.78,701.95V708.25M207.72,702.07V708.37M208.72,702.21V708.51M209.53,702.32V708.62M210.53,702.46V708.76M211.47,702.59V708.89M212.46,702.72V709.02M213.27,702.83V709.13M214.26,702.97V709.27M215.32,703.11V709.41M216.24,703.24V709.54M217.18,703.37V709.67M218.14,703.50V709.80M219.06,703.62V709.92M220.04,703.75V710.05M221.13,703.90V710.20M222.19,704.05V710.35M223.10,704.17V710.47M225.60,704.51V710.81M226.41,704.62V710.92M227.20,704.73V711.03M228.02,704.84V711.14M228.86,704.96V711.26M229.93,705.10V711.40M230.78,705.22V711.52M231.78,705.36V711.66M232.64,705.47V711.77M233.64,705.61V711.91M234.48,705.72V712.02M235.21,705.82V712.12M236.27,705.97V712.27M237.01,706.07V712.37M238.03,706.21V712.51M238.97,706.34V712.64M239.76,706.44V712.74M241.85,706.73V713.03M242.79,706.83V713.13M243.88,706.95V713.25M244.91,707.06V713.36M245.87,707.16V713.46M246.64,707.24V713.54M247.49,707.33V713.63M248.46,707.43V713.73M249.27,707.51V713.81M250.17,707.61V713.91M251.13,707.71V714.01M252.19,707.82V714.12M253.07,707.92V714.22M254.03,708.02V714.32M254.80,708.10V714.40M255.79,708.20V714.50M256.61,708.29V714.59M257.34,708.36V714.66M258.22,708.46V714.76M259.26,708.57V714.87M260.35,708.68V714.98M261.44,708.80V715.10M262.22,708.88V715.18M262.98,708.96V715.26M263.98,709.06V715.36M265.01,709.17V715.47M266.02,709.28V715.58M266.85,709.37V715.67M267.83,709.47V715.77M268.75,709.57V715.87M269.77,709.67V715.97M270.64,709.76V716.06M271.52,709.86V716.16M272.27,709.94V716.24M272.98,710.01V716.31M274.02,710.12V716.42M274.98,710.22V716.52M276.00,710.33V716.63M276.79,710.41V716.71M277.58,710.50V716.80M278.32,710.57V716.87M279.31,710.68V716.98M280.07,710.76V717.06M280.84,710.84V717.14M281.79,710.94V717.24M282.70,711.03V717.33M283.50,711.12V717.42M284.59,711.27V717.57M285.32,711.39V717.69M286.23,711.53V717.83M287.30,711.70V718.00M288.10,711.82V718.12M289.07,711.97V718.27M289.86,712.10V718.40M290.76,712.24V718.54M291.78,712.40V718.70M292.54,712.52V718.82M293.48,712.66V718.96M294.35,712.80V719.10M295.23,712.94V719.24M296.03,713.06V719.36M296.99,713.21V719.51M297.70,713.32V719.62M298.40,713.43V719.73M299.17,713.55V719.85M299.99,713.68V719.98M300.81,713.81V720.11M301.56,713.92V720.22M302.64,714.09V720.39M303.72,714.26V720.56M304.68,714.41V720.71M305.76,714.58V720.88M306.75,714.74V721.04M307.50,714.85V721.15M308.52,715.01V721.31M309.40,715.15V721.45M311.32,715.45V721.75M312.29,715.60V721.90M313.26,715.75V722.05M313.97,715.86V722.16M315.06,716.03V722.33M316.11,716.20V722.50M317.05,716.35V722.65M318.07,716.50V722.80M318.93,716.64V722.94M320.96,716.96V723.26M322.03,717.12V723.42M323.07,717.29V723.59M323.88,717.41V723.71M324.69,717.54V723.84M325.54,717.67V723.97M326.51,717.80V724.10" stroke="#999999" stroke-width="1.3" fill="none"/>
<path d="M44.40,687.60H50.60M47.50,684.50V690.70M46.40,687.60H52.60M49.50,684.50V690.70M47.90,687.60H54.10M51.00,684.50V690.70M49.40,687.60H55.60M52.50,684.50V690.70M57.30,691.10H63.50M60.40,688.00V694.20M61.30,691.10H67.50M64.40,688.00V694.20M70.70,697.50H76.90M73.80,694.40V700.60M82.90,706.90H89.10M86.00,703.80V710.00M85.10,708.00H91.30M88.20,704.90V711.10M87.10,709.80H93.30M90.20,706.70V712.90M89.30,713.90H95.50M92.40,710.80V717.00M91.40,715.00H97.60M94.50,711.90V718.10M93.40,716.20H99.60M96.50,713.10V719.30M97.50,719.10H103.70M100.60,716.00V722.20M110.40,719.10H116.60M113.50,716.00V722.20M134.10,741.40H140.30M137.20,738.30V744.50M137.40,741.40H143.60M140.50,738.30V744.50M142.20,741.40H148.40M145.30,738.30V744.50M154.20,741.40H160.40M157.30,738.30V744.50M157.40,741.40H163.60M160.50,738.30V744.50M165.40,741.40H171.60M168.50,738.30V744.50M200.30,758.70H206.50M203.40,755.60V761.80M207.30,762.20H213.50M210.40,759.10V765.30M209.10,762.20H215.30M212.20,759.10V765.30M210.80,762.20H217.00M213.90,759.10V765.30M242.30,766.40H248.50M245.40,763.30V769.50M250.50,770.85H256.70M253.60,767.75V773.95M270.30,770.85H276.50M273.40,767.75V773.95M273.80,770.85H280.00M276.90,767.75V773.95M277.30,770.85H283.50M280.40,767.75V773.95M292.50,770.85H298.70M295.60,767.75V773.95M301.90,770.85H308.10M305.00,767.75V773.95M312.40,770.85H318.60M315.50,767.75V773.95M315.40,770.85H321.60M318.50,767.75V773.95M318.40,770.85H324.60M321.50,767.75V773.95M321.70,770.85H327.90M324.80,767.75V773.95" stroke="#000" stroke-width="1.3" fill="none"/>
<text x="360.05" y="658.25" font-size="14.2" text-anchor="start" fill="#000">F</text>
<text x="435.54" y="658.50" font-size="9.6" text-anchor="start" fill="#000">Persistent severe weight loss</text>
<line x1="565.46" y1="655.10" x2="579.26" y2="655.10" stroke="#999999" stroke-width="1.9"/>
<line x1="571.86" y1="652.00" x2="571.86" y2="658.20" stroke="#999999" stroke-width="1.3"/>
<text x="585.86" y="658.50" font-size="9.6" text-anchor="start" fill="#000">no</text>
<line x1="603.66" y1="655.10" x2="617.46" y2="655.10" stroke="#000" stroke-width="1.9"/>
<line x1="610.56" y1="652.00" x2="610.56" y2="658.20" stroke="#000" stroke-width="1.3"/>
<text x="624.66" y="658.50" font-size="9.6" text-anchor="start" fill="#000">yes</text>
<line x1="391.40" y1="681.00" x2="391.40" y2="856.00" stroke="#000" stroke-width="1.25" stroke-linecap="square"/>
<line x1="391.40" y1="856.00" x2="683.70" y2="856.00" stroke="#000" stroke-width="1.25" stroke-linecap="square"/>
<line x1="388.20" y1="856.00" x2="391.40" y2="856.00" stroke="#000" stroke-width="1.2"/>
<text x="386.05" y="859.90" font-size="11" text-anchor="end" fill="#222">0.00</text>
<line x1="388.20" y1="812.30" x2="391.40" y2="812.30" stroke="#000" stroke-width="1.2"/>
<text x="386.05" y="816.20" font-size="11" text-anchor="end" fill="#222">0.25</text>
<line x1="388.20" y1="768.60" x2="391.40" y2="768.60" stroke="#000" stroke-width="1.2"/>
<text x="386.05" y="772.50" font-size="11" text-anchor="end" fill="#222">0.50</text>
<line x1="388.20" y1="724.90" x2="391.40" y2="724.90" stroke="#000" stroke-width="1.2"/>
<text x="386.05" y="728.80" font-size="11" text-anchor="end" fill="#222">0.75</text>
<line x1="388.20" y1="681.20" x2="391.40" y2="681.20" stroke="#000" stroke-width="1.2"/>
<text x="386.05" y="685.10" font-size="11" text-anchor="end" fill="#222">1.00</text>
<line x1="391.40" y1="856.00" x2="391.40" y2="859.20" stroke="#000" stroke-width="1.2"/>
<text x="391.40" y="869.50" font-size="11" text-anchor="middle" fill="#222">0</text>
<line x1="461.00" y1="856.00" x2="461.00" y2="859.20" stroke="#000" stroke-width="1.2"/>
<text x="461.00" y="869.50" font-size="11" text-anchor="middle" fill="#222">1</text>
<line x1="530.60" y1="856.00" x2="530.60" y2="859.20" stroke="#000" stroke-width="1.2"/>
<text x="530.60" y="869.50" font-size="11" text-anchor="middle" fill="#222">2</text>
<line x1="600.20" y1="856.00" x2="600.20" y2="859.20" stroke="#000" stroke-width="1.2"/>
<text x="600.20" y="869.50" font-size="11" text-anchor="middle" fill="#222">3</text>
<line x1="669.80" y1="856.00" x2="669.80" y2="859.20" stroke="#000" stroke-width="1.2"/>
<text x="669.80" y="869.50" font-size="11" text-anchor="middle" fill="#222">4</text>
<text x="537.55" y="885.40" font-size="13.5" text-anchor="middle" fill="#000">Follow-up time since FU1 (years)</text>
<text x="0" y="0" font-size="13.5" text-anchor="middle" transform="translate(358.00,768.50) rotate(-90)">Proportion of patients survived</text>
<text x="398.30" y="806.80" font-size="9.6" text-anchor="start" fill="#000">Adjusted HR = 6.29</text>
<text x="398.30" y="824.60" font-size="9.6" text-anchor="start" fill="#000">[2.33, 17.01],</text>
<text x="398.30" y="841.80" font-size="9.6" text-anchor="start" fill="#000">p &lt; 0.001</text>
<text x="383.95" y="906.90" font-size="9.6" text-anchor="start" fill="#000">Patients at risk</text>
<text x="378.60" y="928.10" font-size="9.6" text-anchor="end" fill="#000">no</text>
<text x="378.60" y="944.10" font-size="9.6" text-anchor="end" fill="#000">yes</text>
<text x="394.00" y="928.10" font-size="9.6" text-anchor="middle" fill="#000">1928</text>
<text x="394.00" y="944.10" font-size="9.6" text-anchor="middle" fill="#000">6</text>
<text x="455.70" y="928.10" font-size="9.6" text-anchor="middle" fill="#000">1574</text>
<text x="455.70" y="944.10" font-size="9.6" text-anchor="middle" fill="#000">3</text>
<text x="526.80" y="928.10" font-size="9.6" text-anchor="middle" fill="#000">1221</text>
<text x="526.80" y="944.10" font-size="9.6" text-anchor="middle" fill="#000">2</text>
<text x="597.70" y="928.10" font-size="9.6" text-anchor="middle" fill="#000">919</text>
<text x="597.70" y="944.10" font-size="9.6" text-anchor="middle" fill="#000">1</text>
<text x="669.50" y="928.10" font-size="9.6" text-anchor="middle" fill="#000">596</text>
<text x="669.50" y="944.10" font-size="9.6" text-anchor="middle" fill="#000">0</text>
<line x1="391.40" y1="768.40" x2="490.50" y2="768.40" stroke="#000" stroke-width="1.1" stroke-dasharray="4.2 4.1"/>
<line x1="490.50" y1="768.40" x2="490.50" y2="856.00" stroke="#000" stroke-width="1.1" stroke-dasharray="4.2 4.1"/>
<polyline points="392.50,682.60 413.40,685.90 436.70,688.80 470.00,692.80 505.00,696.80 550.00,702.00 606.90,709.20 669.50,715.00 672.40,715.30" fill="none" stroke="#999999" stroke-width="1.6" stroke-linejoin="miter"/>
<polyline points="391.40,681.00 391.40,710.10 396.00,710.10 396.00,739.30 490.50,739.30 490.50,778.10 577.90,778.10 577.90,817.00 662.50,817.00" fill="none" stroke="#000" stroke-width="2.0" stroke-linejoin="miter"/>
<path d="M393.30,679.58V685.88M394.33,679.74V686.04M395.19,679.87V686.17M396.29,680.05V686.35M397.21,680.19V686.49M397.94,680.31V686.61M398.89,680.46V686.76M399.65,680.58V686.88M400.64,680.73V687.03M401.44,680.86V687.16M402.34,681.00V687.30M404.28,681.31V687.61M405.27,681.47V687.77M405.97,681.58V687.88M406.75,681.70V688.00M407.54,681.83V688.13M408.36,681.95V688.25M409.07,682.07V688.37M409.97,682.21V688.51M410.94,682.36V688.66M411.66,682.48V688.78M412.46,682.60V688.90M413.23,682.72V689.02M414.19,682.85V689.15M415.00,682.95V689.25M417.31,683.24V689.54M418.06,683.33V689.63M419.06,683.45V689.75M419.81,683.55V689.85M420.80,683.67V689.97M421.63,683.77V690.07M422.51,683.88V690.18M423.60,684.02V690.32M424.37,684.12V690.42M425.15,684.21V690.51M426.21,684.34V690.64M427.10,684.45V690.75M428.00,684.57V690.87M428.99,684.69V690.99M430.03,684.82V691.12M431.08,684.95V691.25M431.85,685.05V691.35M432.89,685.18V691.48M433.81,685.29V691.59M434.84,685.42V691.72M435.69,685.52V691.82M436.42,685.62V691.92M438.62,685.88V692.18M439.37,685.97V692.27M440.37,686.09V692.39M441.44,686.22V692.52M442.17,686.31V692.61M443.05,686.41V692.71M445.50,686.71V693.01M446.51,686.83V693.13M447.32,686.93V693.23M448.20,687.03V693.33M448.90,687.12V693.42M449.69,687.21V693.51M450.71,687.33V693.63M451.57,687.44V693.74M454.01,687.73V694.03M454.75,687.82V694.12M455.81,687.95V694.25M456.73,688.06V694.36M457.64,688.16V694.46M458.40,688.26V694.56M460.92,688.56V694.86M461.69,688.65V694.95M462.47,688.75V695.05M463.32,688.85V695.15M464.24,688.96V695.26M466.53,689.23V695.53M467.25,689.32V695.62M469.34,689.57V695.87M470.43,689.70V696.00M471.48,689.82V696.12M472.29,689.91V696.21M473.32,690.03V696.33M474.23,690.13V696.43M474.99,690.22V696.52M475.89,690.32V696.62M476.87,690.44V696.74M477.76,690.54V696.84M478.50,690.62V696.92M479.58,690.75V697.05M480.45,690.84V697.14M481.33,690.94V697.24M482.14,691.04V697.34M482.99,691.13V697.43M483.95,691.24V697.54M486.10,691.49V697.79M487.12,691.61V697.91M487.85,691.69V697.99M488.55,691.77V698.07M489.45,691.87V698.17M490.30,691.97V698.27M491.11,692.06V698.36M491.87,692.15V698.45M492.77,692.25V698.55M493.58,692.35V698.65M494.65,692.47V698.77M495.73,692.59V698.89M496.72,692.70V699.00M497.60,692.80V699.10M498.46,692.90V699.20M499.53,693.03V699.33M500.25,693.11V699.41M501.17,693.21V699.51M501.89,693.29V699.59M502.72,693.39V699.69M503.57,693.49V699.79M504.44,693.59V699.89M505.50,693.71V700.01M506.30,693.80V700.10M507.10,693.89V700.19M507.81,693.97V700.27M510.36,694.27V700.57M511.16,694.36V700.66M511.87,694.44V700.74M512.82,694.55V700.85M513.69,694.65V700.95M514.72,694.77V701.07M515.45,694.86V701.16M516.52,694.98V701.28M517.24,695.06V701.36M517.99,695.15V701.45M519.00,695.27V701.57M519.87,695.37V701.67M520.92,695.49V701.79M521.63,695.57V701.87M522.56,695.68V701.98M523.65,695.81V702.11M524.75,695.93V702.23M526.70,696.16V702.46M527.64,696.27V702.57M528.67,696.39V702.69M529.66,696.50V702.80M530.74,696.62V702.92M531.72,696.74V703.04M532.78,696.86V703.16M533.57,696.95V703.25M534.58,697.07V703.37M535.47,697.17V703.47M536.27,697.26V703.56M537.13,697.36V703.66M538.10,697.48V703.78M539.07,697.59V703.89M540.05,697.70V704.00M540.76,697.78V704.08M541.75,697.90V704.20M542.74,698.01V704.31M543.70,698.12V704.42M544.66,698.23V704.53M545.52,698.33V704.63M546.51,698.45V704.75M547.33,698.54V704.84M549.40,698.78V705.08M550.25,698.88V705.18M552.74,699.20V705.50M553.46,699.29V705.59M554.37,699.40V705.70M555.40,699.53V705.83M556.45,699.67V705.97M557.48,699.80V706.10M558.44,699.92V706.22M559.39,700.04V706.34M561.89,700.35V706.65M562.82,700.47V706.77M563.85,700.60V706.90M564.72,700.71V707.01M567.31,701.04V707.34M568.36,701.17V707.47M569.23,701.28V707.58M570.15,701.40V707.70M571.09,701.52V707.82M572.00,701.63V707.93M574.50,701.95V708.25M575.34,702.06V708.36M576.18,702.16V708.46M577.20,702.29V708.59M578.07,702.40V708.70M578.97,702.52V708.82M579.81,702.62V708.92M580.74,702.74V709.04M581.58,702.85V709.15M582.37,702.95V709.25M583.16,703.05V709.35M583.90,703.14V709.44M584.79,703.25V709.55M585.75,703.37V709.67M586.61,703.48V709.78M587.37,703.58V709.88M588.39,703.71V710.01M590.35,703.96V710.26M591.38,704.09V710.39M592.26,704.20V710.50M593.31,704.33V710.63M595.35,704.59V710.89M596.30,704.71V711.01M597.18,704.82V711.12M597.90,704.91V711.21M598.63,705.00V711.30M599.33,705.09V711.39M600.28,705.21V711.51M601.21,705.33V711.63M602.31,705.47V711.77M603.15,705.58V711.88M604.04,705.69V711.99M605.03,705.81V712.11M605.93,705.93V712.23M606.79,706.04V712.34M607.87,706.14V712.44M608.76,706.22V712.52M609.77,706.32V712.62M610.63,706.40V712.70M611.48,706.47V712.77M612.40,706.56V712.86M614.48,706.75V713.05M615.28,706.83V713.13M615.98,706.89V713.19M616.89,706.98V713.28M617.96,707.08V713.38M618.78,707.15V713.45M619.85,707.25V713.55M620.76,707.33V713.63M622.67,707.51V713.81M623.64,707.60V713.90M624.47,707.68V713.98M625.32,707.76V714.06M626.27,707.84V714.14M627.10,707.92V714.22M628.07,708.01V714.31M628.84,708.08V714.38M629.80,708.17V714.47M630.55,708.24V714.54M631.31,708.31V714.61M632.05,708.38V714.68M632.90,708.46V714.76M635.00,708.65V714.95M635.89,708.74V715.04M636.93,708.83V715.13M637.73,708.91V715.21M638.54,708.98V715.28M640.86,709.20V715.50M641.83,709.29V715.59M642.66,709.36V715.66M643.50,709.44V715.74M644.22,709.51V715.81M645.05,709.58V715.88M646.08,709.68V715.98M646.97,709.76V716.06M649.38,709.99V716.29M650.44,710.08V716.38M651.23,710.16V716.46M652.17,710.24V716.54M653.19,710.34V716.64M653.94,710.41V716.71M656.27,710.62V716.92M657.04,710.70V717.00M659.48,710.92V717.22M660.52,711.02V717.32M661.55,711.11V717.41M662.63,711.21V717.51M663.67,711.31V717.61M664.49,711.39V717.69M665.55,711.48V717.78M666.29,711.55V717.85M668.58,711.76V718.06M669.66,711.87V718.17M671.84,712.09V718.39" stroke="#999999" stroke-width="1.3" fill="none"/>
<path d="M425.00,739.30H431.20M428.10,736.20V742.40M659.40,817.00H665.60M662.50,813.90V820.10" stroke="#000" stroke-width="1.3" fill="none"/>
</svg>
</body></html>
